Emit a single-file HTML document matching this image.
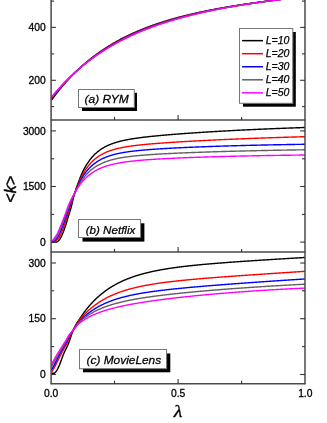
<!DOCTYPE html>
<html><head><meta charset="utf-8"><title>chart</title>
<style>html,body{margin:0;padding:0;background:#fff;}body{width:327px;height:423px;overflow:hidden;font-family:"Liberation Sans",sans-serif;}</style>
</head><body>
<svg width="327" height="423" viewBox="0 0 327 423" style="display:block;will-change:transform">
<rect width="327" height="423" fill="#fff"/>
<defs>
<clipPath id="c1"><rect x="51.1" y="0" width="253.9" height="119.9"/></clipPath>
<clipPath id="c2"><rect x="51.1" y="119.9" width="253.9" height="132.0"/></clipPath>
<clipPath id="c3"><rect x="51.1" y="251.9" width="253.9" height="131.85"/></clipPath>
</defs>
<g clip-path="url(#c1)" fill="none" stroke-width="1.4" stroke-linejoin="round">
<path d="M51.50,99.80 L52.01,99.46 L52.52,98.77 L53.03,98.08 L53.54,97.39 L54.05,96.71 L54.55,96.04 L55.06,95.37 L55.57,94.70 L56.08,94.04 L56.59,93.39 L57.10,92.74 L57.61,92.09 L58.12,91.45 L58.63,90.81 L59.14,90.18 L59.64,89.56 L60.15,88.93 L60.66,88.32 L61.17,87.70 L61.68,87.09 L62.19,86.49 L62.70,85.89 L63.21,85.29 L63.72,84.70 L64.23,84.11 L64.73,83.53 L65.24,82.95 L65.75,82.38 L66.26,81.81 L66.77,81.24 L67.28,80.68 L67.79,80.12 L68.30,79.57 L68.81,79.02 L69.32,78.47 L69.82,77.93 L70.33,77.39 L70.84,76.86 L71.35,76.33 L71.86,75.80 L72.37,75.28 L72.88,74.76 L73.39,74.24 L73.90,73.73 L74.41,73.22 L74.91,72.72 L75.42,72.22 L75.93,71.72 L76.44,71.23 L76.95,70.74 L77.46,70.25 L77.97,69.77 L78.48,69.29 L78.99,68.81 L79.50,68.34 L80.01,67.87 L80.51,67.41 L81.02,66.94 L81.53,66.48 L82.04,66.03 L82.55,65.58 L83.06,65.13 L83.57,64.68 L84.08,64.24 L84.59,63.80 L85.10,63.36 L85.60,62.93 L86.11,62.49 L86.62,62.07 L87.13,61.64 L87.64,61.22 L88.15,60.80 L88.66,60.38 L89.17,59.97 L89.68,59.56 L90.19,59.15 L90.69,58.75 L91.20,58.35 L91.71,57.95 L92.22,57.55 L92.73,57.16 L93.24,56.77 L93.75,56.38 L94.26,56.00 L94.77,55.62 L95.28,55.24 L95.78,54.86 L96.29,54.48 L96.80,54.11 L97.31,53.74 L97.82,53.38 L98.33,53.01 L98.84,52.65 L99.35,52.29 L99.86,51.93 L100.37,51.58 L100.87,51.23 L101.38,50.88 L101.89,50.53 L102.40,50.19 L102.91,49.85 L103.42,49.51 L103.93,49.17 L104.44,48.83 L104.95,48.50 L105.46,48.17 L105.96,47.84 L106.47,47.51 L106.98,47.19 L107.49,46.87 L108.00,46.55 L108.51,46.23 L109.02,45.92 L109.53,45.60 L110.04,45.29 L110.55,44.98 L111.06,44.68 L111.56,44.37 L112.07,44.07 L112.58,43.77 L113.09,43.47 L113.60,43.17 L114.11,42.88 L114.62,42.59 L115.13,42.30 L115.64,42.01 L116.15,41.72 L116.65,41.43 L117.16,41.15 L117.67,40.87 L118.18,40.59 L118.69,40.31 L119.20,40.04 L119.71,39.76 L120.22,39.49 L120.73,39.22 L121.24,38.95 L121.74,38.69 L122.25,38.42 L122.76,38.16 L123.27,37.90 L123.78,37.64 L124.29,37.38 L124.80,37.12 L125.31,36.87 L125.82,36.62 L126.33,36.36 L126.83,36.11 L127.34,35.87 L127.85,35.62 L128.36,35.37 L128.87,35.13 L129.38,34.89 L129.89,34.65 L130.40,34.41 L130.91,34.17 L131.42,33.94 L131.92,33.70 L132.43,33.47 L132.94,33.24 L133.45,33.01 L133.96,32.78 L134.47,32.56 L134.98,32.33 L135.49,32.11 L136.00,31.88 L136.51,31.66 L137.02,31.44 L137.52,31.22 L138.03,31.01 L138.54,30.79 L139.05,30.58 L139.56,30.37 L140.07,30.15 L140.58,29.94 L141.09,29.73 L141.60,29.53 L142.11,29.32 L142.61,29.12 L143.12,28.91 L143.63,28.71 L144.14,28.51 L144.65,28.31 L145.16,28.11 L145.67,27.91 L146.18,27.72 L146.69,27.52 L147.20,27.33 L147.70,27.13 L148.21,26.94 L148.72,26.75 L149.23,26.56 L149.74,26.37 L150.25,26.19 L150.76,26.00 L151.27,25.82 L151.78,25.63 L152.29,25.45 L152.79,25.27 L153.30,25.09 L153.81,24.91 L154.32,24.73 L154.83,24.55 L155.34,24.38 L155.85,24.20 L156.36,24.03 L156.87,23.86 L157.38,23.68 L157.88,23.51 L158.39,23.34 L158.90,23.17 L159.41,23.01 L159.92,22.84 L160.43,22.67 L160.94,22.51 L161.45,22.34 L161.96,22.18 L162.47,22.02 L162.97,21.86 L163.48,21.70 L163.99,21.54 L164.50,21.38 L165.01,21.22 L165.52,21.06 L166.03,20.91 L166.54,20.75 L167.05,20.60 L167.56,20.45 L168.07,20.29 L168.57,20.14 L169.08,19.99 L169.59,19.84 L170.10,19.69 L170.61,19.54 L171.12,19.40 L171.63,19.25 L172.14,19.11 L172.65,18.96 L173.16,18.82 L173.66,18.67 L174.17,18.53 L174.68,18.39 L175.19,18.25 L175.70,18.11 L176.21,17.97 L176.72,17.83 L177.23,17.69 L177.74,17.55 L178.25,17.42 L178.75,17.28 L179.26,17.15 L179.77,17.01 L180.28,16.88 L180.79,16.75 L181.30,16.61 L181.81,16.48 L182.32,16.35 L182.83,16.22 L183.34,16.09 L183.84,15.96 L184.35,15.84 L184.86,15.71 L185.37,15.58 L185.88,15.46 L186.39,15.33 L186.90,15.21 L187.41,15.08 L187.92,14.96 L188.43,14.84 L188.93,14.71 L189.44,14.59 L189.95,14.47 L190.46,14.35 L190.97,14.23 L191.48,14.11 L191.99,13.99 L192.50,13.88 L193.01,13.76 L193.52,13.64 L194.03,13.53 L194.53,13.41 L195.04,13.30 L195.55,13.18 L196.06,13.07 L196.57,12.95 L197.08,12.84 L197.59,12.73 L198.10,12.62 L198.61,12.51 L199.12,12.39 L199.62,12.28 L200.13,12.18 L200.64,12.07 L201.15,11.96 L201.66,11.85 L202.17,11.74 L202.68,11.64 L203.19,11.53 L203.70,11.42 L204.21,11.32 L204.71,11.21 L205.22,11.11 L205.73,11.00 L206.24,10.90 L206.75,10.80 L207.26,10.69 L207.77,10.59 L208.28,10.49 L208.79,10.39 L209.30,10.29 L209.80,10.19 L210.31,10.09 L210.82,9.99 L211.33,9.89 L211.84,9.79 L212.35,9.69 L212.86,9.60 L213.37,9.50 L213.88,9.40 L214.39,9.31 L214.89,9.21 L215.40,9.11 L215.91,9.02 L216.42,8.92 L216.93,8.83 L217.44,8.74 L217.95,8.64 L218.46,8.55 L218.97,8.46 L219.48,8.37 L219.98,8.27 L220.49,8.18 L221.00,8.09 L221.51,8.00 L222.02,7.91 L222.53,7.82 L223.04,7.73 L223.55,7.64 L224.06,7.55 L224.57,7.46 L225.08,7.38 L225.58,7.29 L226.09,7.20 L226.60,7.11 L227.11,7.03 L227.62,6.94 L228.13,6.85 L228.64,6.77 L229.15,6.68 L229.66,6.60 L230.17,6.51 L230.67,6.43 L231.18,6.34 L231.69,6.26 L232.20,6.18 L232.71,6.09 L233.22,6.01 L233.73,5.93 L234.24,5.85 L234.75,5.77 L235.26,5.68 L235.76,5.60 L236.27,5.52 L236.78,5.44 L237.29,5.36 L237.80,5.28 L238.31,5.20 L238.82,5.12 L239.33,5.04 L239.84,4.96 L240.35,4.89 L240.85,4.81 L241.36,4.73 L241.87,4.65 L242.38,4.57 L242.89,4.50 L243.40,4.42 L243.91,4.34 L244.42,4.27 L244.93,4.19 L245.44,4.12 L245.94,4.04 L246.45,3.96 L246.96,3.89 L247.47,3.81 L247.98,3.74 L248.49,3.67 L249.00,3.59 L249.51,3.52 L250.02,3.44 L250.53,3.37 L251.04,3.30 L251.54,3.23 L252.05,3.15 L252.56,3.08 L253.07,3.01 L253.58,2.94 L254.09,2.87 L254.60,2.79 L255.11,2.72 L255.62,2.65 L256.13,2.58 L256.63,2.51 L257.14,2.44 L257.65,2.37 L258.16,2.30 L258.67,2.23 L259.18,2.16 L259.69,2.09 L260.20,2.02 L260.71,1.95 L261.22,1.89 L261.72,1.82 L262.23,1.75 L262.74,1.68 L263.25,1.61 L263.76,1.55 L264.27,1.48 L264.78,1.41 L265.29,1.35 L265.80,1.28 L266.31,1.21 L266.81,1.15 L267.32,1.08 L267.83,1.01 L268.34,0.95 L268.85,0.88 L269.36,0.82 L269.87,0.75 L270.38,0.69 L270.89,0.62 L271.40,0.56 L271.90,0.49 L272.41,0.43 L272.92,0.36 L273.43,0.30 L273.94,0.24 L274.45,0.17 L274.96,0.11 L275.47,0.05 L275.98,-0.02 L276.49,-0.08 L276.99,-0.14 L277.50,-0.21 L278.01,-0.27 L278.52,-0.33 L279.03,-0.39 L279.54,-0.45 L280.05,-0.52 L280.56,-0.58 L281.07,-0.64 L281.58,-0.70 L282.09,-0.76 L282.59,-0.82 L283.10,-0.88 L283.61,-0.95 L284.12,-1.01 L284.63,-1.07 L285.14,-1.13 L285.65,-1.19 L286.16,-1.25 L286.67,-1.31 L287.18,-1.37 L287.68,-1.43 L288.19,-1.49 L288.70,-1.55 L289.21,-1.60 L289.72,-1.66 L290.23,-1.72 L290.74,-1.78 L291.25,-1.84 L291.76,-1.90 L292.27,-1.96 L292.77,-2.02 L293.28,-2.07 L293.79,-2.13 L294.30,-2.19 L294.81,-2.25 L295.32,-2.30 L295.83,-2.36 L296.34,-2.42 L296.85,-2.48 L297.36,-2.53 L297.86,-2.59 L298.37,-2.65 L298.88,-2.70 L299.39,-2.76 L299.90,-2.82 L300.41,-2.87 L300.92,-2.93 L301.43,-2.99 L301.94,-3.04 L302.45,-3.10 L302.95,-3.15 L303.46,-3.21 L303.97,-3.27 L304.48,-3.32 L304.99,-3.38 L305.50,-3.43" stroke="#000000"/>
<path d="M51.50,98.20 L52.01,98.07 L52.52,97.41 L53.03,96.76 L53.54,96.11 L54.05,95.47 L54.55,94.83 L55.06,94.19 L55.57,93.56 L56.08,92.93 L56.59,92.31 L57.10,91.69 L57.61,91.08 L58.12,90.47 L58.63,89.86 L59.14,89.26 L59.64,88.67 L60.15,88.07 L60.66,87.49 L61.17,86.90 L61.68,86.32 L62.19,85.74 L62.70,85.17 L63.21,84.60 L63.72,84.04 L64.23,83.48 L64.73,82.92 L65.24,82.37 L65.75,81.82 L66.26,81.27 L66.77,80.73 L67.28,80.19 L67.79,79.66 L68.30,79.12 L68.81,78.60 L69.32,78.07 L69.82,77.55 L70.33,77.04 L70.84,76.52 L71.35,76.01 L71.86,75.51 L72.37,75.00 L72.88,74.51 L73.39,74.01 L73.90,73.52 L74.41,73.03 L74.91,72.54 L75.42,72.06 L75.93,71.58 L76.44,71.10 L76.95,70.63 L77.46,70.16 L77.97,69.69 L78.48,69.23 L78.99,68.77 L79.50,68.31 L80.01,67.86 L80.51,67.41 L81.02,66.96 L81.53,66.52 L82.04,66.07 L82.55,65.63 L83.06,65.20 L83.57,64.77 L84.08,64.34 L84.59,63.91 L85.10,63.48 L85.60,63.06 L86.11,62.64 L86.62,62.23 L87.13,61.81 L87.64,61.40 L88.15,60.99 L88.66,60.59 L89.17,60.19 L89.68,59.79 L90.19,59.39 L90.69,59.00 L91.20,58.60 L91.71,58.22 L92.22,57.83 L92.73,57.44 L93.24,57.06 L93.75,56.68 L94.26,56.31 L94.77,55.93 L95.28,55.56 L95.78,55.19 L96.29,54.83 L96.80,54.46 L97.31,54.10 L97.82,53.74 L98.33,53.38 L98.84,53.03 L99.35,52.68 L99.86,52.33 L100.37,51.98 L100.87,51.63 L101.38,51.29 L101.89,50.95 L102.40,50.61 L102.91,50.27 L103.42,49.94 L103.93,49.60 L104.44,49.27 L104.95,48.95 L105.46,48.62 L105.96,48.30 L106.47,47.97 L106.98,47.66 L107.49,47.34 L108.00,47.02 L108.51,46.71 L109.02,46.40 L109.53,46.09 L110.04,45.78 L110.55,45.47 L111.06,45.17 L111.56,44.87 L112.07,44.57 L112.58,44.27 L113.09,43.98 L113.60,43.68 L114.11,43.39 L114.62,43.10 L115.13,42.81 L115.64,42.52 L116.15,42.24 L116.65,41.96 L117.16,41.68 L117.67,41.40 L118.18,41.12 L118.69,40.84 L119.20,40.57 L119.71,40.30 L120.22,40.03 L120.73,39.76 L121.24,39.49 L121.74,39.22 L122.25,38.96 L122.76,38.70 L123.27,38.44 L123.78,38.18 L124.29,37.92 L124.80,37.66 L125.31,37.41 L125.82,37.16 L126.33,36.91 L126.83,36.66 L127.34,36.41 L127.85,36.16 L128.36,35.92 L128.87,35.67 L129.38,35.43 L129.89,35.19 L130.40,34.95 L130.91,34.72 L131.42,34.48 L131.92,34.24 L132.43,34.01 L132.94,33.78 L133.45,33.55 L133.96,33.32 L134.47,33.09 L134.98,32.87 L135.49,32.64 L136.00,32.42 L136.51,32.20 L137.02,31.98 L137.52,31.76 L138.03,31.54 L138.54,31.32 L139.05,31.11 L139.56,30.89 L140.07,30.68 L140.58,30.47 L141.09,30.26 L141.60,30.05 L142.11,29.84 L142.61,29.63 L143.12,29.43 L143.63,29.23 L144.14,29.02 L144.65,28.82 L145.16,28.62 L145.67,28.42 L146.18,28.22 L146.69,28.03 L147.20,27.83 L147.70,27.64 L148.21,27.44 L148.72,27.25 L149.23,27.06 L149.74,26.87 L150.25,26.68 L150.76,26.49 L151.27,26.30 L151.78,26.12 L152.29,25.93 L152.79,25.75 L153.30,25.57 L153.81,25.39 L154.32,25.21 L154.83,25.03 L155.34,24.85 L155.85,24.67 L156.36,24.49 L156.87,24.32 L157.38,24.14 L157.88,23.97 L158.39,23.80 L158.90,23.63 L159.41,23.46 L159.92,23.29 L160.43,23.12 L160.94,22.95 L161.45,22.78 L161.96,22.62 L162.47,22.45 L162.97,22.29 L163.48,22.13 L163.99,21.97 L164.50,21.80 L165.01,21.64 L165.52,21.48 L166.03,21.33 L166.54,21.17 L167.05,21.01 L167.56,20.86 L168.07,20.70 L168.57,20.55 L169.08,20.39 L169.59,20.24 L170.10,20.09 L170.61,19.94 L171.12,19.79 L171.63,19.64 L172.14,19.49 L172.65,19.34 L173.16,19.20 L173.66,19.05 L174.17,18.91 L174.68,18.76 L175.19,18.62 L175.70,18.48 L176.21,18.33 L176.72,18.19 L177.23,18.05 L177.74,17.91 L178.25,17.77 L178.75,17.63 L179.26,17.50 L179.77,17.36 L180.28,17.22 L180.79,17.09 L181.30,16.95 L181.81,16.82 L182.32,16.69 L182.83,16.55 L183.34,16.42 L183.84,16.29 L184.35,16.16 L184.86,16.03 L185.37,15.90 L185.88,15.77 L186.39,15.64 L186.90,15.51 L187.41,15.39 L187.92,15.26 L188.43,15.14 L188.93,15.01 L189.44,14.89 L189.95,14.76 L190.46,14.64 L190.97,14.52 L191.48,14.40 L191.99,14.28 L192.50,14.16 L193.01,14.04 L193.52,13.92 L194.03,13.80 L194.53,13.68 L195.04,13.56 L195.55,13.44 L196.06,13.33 L196.57,13.21 L197.08,13.10 L197.59,12.98 L198.10,12.87 L198.61,12.75 L199.12,12.64 L199.62,12.53 L200.13,12.42 L200.64,12.31 L201.15,12.19 L201.66,12.08 L202.17,11.97 L202.68,11.86 L203.19,11.76 L203.70,11.65 L204.21,11.54 L204.71,11.43 L205.22,11.33 L205.73,11.22 L206.24,11.11 L206.75,11.01 L207.26,10.90 L207.77,10.80 L208.28,10.69 L208.79,10.59 L209.30,10.49 L209.80,10.39 L210.31,10.28 L210.82,10.18 L211.33,10.08 L211.84,9.98 L212.35,9.88 L212.86,9.78 L213.37,9.68 L213.88,9.58 L214.39,9.48 L214.89,9.39 L215.40,9.29 L215.91,9.19 L216.42,9.09 L216.93,9.00 L217.44,8.90 L217.95,8.81 L218.46,8.71 L218.97,8.62 L219.48,8.52 L219.98,8.43 L220.49,8.33 L221.00,8.24 L221.51,8.15 L222.02,8.06 L222.53,7.97 L223.04,7.87 L223.55,7.78 L224.06,7.69 L224.57,7.60 L225.08,7.51 L225.58,7.42 L226.09,7.33 L226.60,7.24 L227.11,7.16 L227.62,7.07 L228.13,6.98 L228.64,6.89 L229.15,6.81 L229.66,6.72 L230.17,6.63 L230.67,6.55 L231.18,6.46 L231.69,6.38 L232.20,6.29 L232.71,6.21 L233.22,6.12 L233.73,6.04 L234.24,5.95 L234.75,5.87 L235.26,5.79 L235.76,5.70 L236.27,5.62 L236.78,5.54 L237.29,5.46 L237.80,5.38 L238.31,5.30 L238.82,5.22 L239.33,5.13 L239.84,5.05 L240.35,4.97 L240.85,4.89 L241.36,4.82 L241.87,4.74 L242.38,4.66 L242.89,4.58 L243.40,4.50 L243.91,4.42 L244.42,4.35 L244.93,4.27 L245.44,4.19 L245.94,4.12 L246.45,4.04 L246.96,3.96 L247.47,3.89 L247.98,3.81 L248.49,3.74 L249.00,3.66 L249.51,3.59 L250.02,3.51 L250.53,3.44 L251.04,3.36 L251.54,3.29 L252.05,3.22 L252.56,3.14 L253.07,3.07 L253.58,3.00 L254.09,2.92 L254.60,2.85 L255.11,2.78 L255.62,2.71 L256.13,2.64 L256.63,2.57 L257.14,2.49 L257.65,2.42 L258.16,2.35 L258.67,2.28 L259.18,2.21 L259.69,2.14 L260.20,2.07 L260.71,2.00 L261.22,1.93 L261.72,1.86 L262.23,1.80 L262.74,1.73 L263.25,1.66 L263.76,1.59 L264.27,1.52 L264.78,1.46 L265.29,1.39 L265.80,1.32 L266.31,1.25 L266.81,1.19 L267.32,1.12 L267.83,1.05 L268.34,0.99 L268.85,0.92 L269.36,0.86 L269.87,0.79 L270.38,0.72 L270.89,0.66 L271.40,0.59 L271.90,0.53 L272.41,0.46 L272.92,0.40 L273.43,0.34 L273.94,0.27 L274.45,0.21 L274.96,0.14 L275.47,0.08 L275.98,0.02 L276.49,-0.05 L276.99,-0.11 L277.50,-0.17 L278.01,-0.24 L278.52,-0.30 L279.03,-0.36 L279.54,-0.42 L280.05,-0.48 L280.56,-0.55 L281.07,-0.61 L281.58,-0.67 L282.09,-0.73 L282.59,-0.79 L283.10,-0.85 L283.61,-0.91 L284.12,-0.97 L284.63,-1.03 L285.14,-1.10 L285.65,-1.16 L286.16,-1.22 L286.67,-1.28 L287.18,-1.33 L287.68,-1.39 L288.19,-1.45 L288.70,-1.51 L289.21,-1.57 L289.72,-1.63 L290.23,-1.69 L290.74,-1.75 L291.25,-1.81 L291.76,-1.87 L292.27,-1.92 L292.77,-1.98 L293.28,-2.04 L293.79,-2.10 L294.30,-2.16 L294.81,-2.21 L295.32,-2.27 L295.83,-2.33 L296.34,-2.38 L296.85,-2.44 L297.36,-2.50 L297.86,-2.56 L298.37,-2.61 L298.88,-2.67 L299.39,-2.72 L299.90,-2.78 L300.41,-2.84 L300.92,-2.89 L301.43,-2.95 L301.94,-3.00 L302.45,-3.06 L302.95,-3.12 L303.46,-3.17 L303.97,-3.23 L304.48,-3.28 L304.99,-3.34 L305.50,-3.39" stroke="#ff0000"/>
<path d="M51.50,97.50 L52.01,97.43 L52.52,96.79 L53.03,96.15 L53.54,95.53 L54.05,94.90 L54.55,94.28 L55.06,93.66 L55.57,93.05 L56.08,92.44 L56.59,91.84 L57.10,91.24 L57.61,90.64 L58.12,90.05 L58.63,89.46 L59.14,88.88 L59.64,88.30 L60.15,87.72 L60.66,87.15 L61.17,86.58 L61.68,86.02 L62.19,85.45 L62.70,84.90 L63.21,84.34 L63.72,83.79 L64.23,83.25 L64.73,82.70 L65.24,82.16 L65.75,81.63 L66.26,81.10 L66.77,80.57 L67.28,80.04 L67.79,79.52 L68.30,79.00 L68.81,78.49 L69.32,77.98 L69.82,77.47 L70.33,76.96 L70.84,76.46 L71.35,75.96 L71.86,75.47 L72.37,74.98 L72.88,74.49 L73.39,74.01 L73.90,73.52 L74.41,73.04 L74.91,72.57 L75.42,72.10 L75.93,71.63 L76.44,71.16 L76.95,70.70 L77.46,70.24 L77.97,69.78 L78.48,69.33 L78.99,68.88 L79.50,68.43 L80.01,67.98 L80.51,67.54 L81.02,67.10 L81.53,66.66 L82.04,66.23 L82.55,65.80 L83.06,65.37 L83.57,64.95 L84.08,64.52 L84.59,64.10 L85.10,63.69 L85.60,63.27 L86.11,62.86 L86.62,62.45 L87.13,62.04 L87.64,61.64 L88.15,61.24 L88.66,60.84 L89.17,60.45 L89.68,60.05 L90.19,59.66 L90.69,59.27 L91.20,58.89 L91.71,58.50 L92.22,58.12 L92.73,57.74 L93.24,57.37 L93.75,56.99 L94.26,56.62 L94.77,56.25 L95.28,55.89 L95.78,55.52 L96.29,55.16 L96.80,54.80 L97.31,54.44 L97.82,54.09 L98.33,53.74 L98.84,53.38 L99.35,53.04 L99.86,52.69 L100.37,52.35 L100.87,52.00 L101.38,51.66 L101.89,51.33 L102.40,50.99 L102.91,50.66 L103.42,50.33 L103.93,50.00 L104.44,49.67 L104.95,49.35 L105.46,49.02 L105.96,48.70 L106.47,48.38 L106.98,48.07 L107.49,47.75 L108.00,47.44 L108.51,47.13 L109.02,46.82 L109.53,46.51 L110.04,46.21 L110.55,45.90 L111.06,45.60 L111.56,45.30 L112.07,45.01 L112.58,44.71 L113.09,44.42 L113.60,44.12 L114.11,43.83 L114.62,43.55 L115.13,43.26 L115.64,42.97 L116.15,42.69 L116.65,42.41 L117.16,42.13 L117.67,41.85 L118.18,41.58 L118.69,41.30 L119.20,41.03 L119.71,40.76 L120.22,40.49 L120.73,40.22 L121.24,39.95 L121.74,39.69 L122.25,39.43 L122.76,39.16 L123.27,38.90 L123.78,38.65 L124.29,38.39 L124.80,38.13 L125.31,37.88 L125.82,37.63 L126.33,37.38 L126.83,37.13 L127.34,36.88 L127.85,36.63 L128.36,36.39 L128.87,36.15 L129.38,35.91 L129.89,35.67 L130.40,35.43 L130.91,35.19 L131.42,34.95 L131.92,34.72 L132.43,34.49 L132.94,34.25 L133.45,34.02 L133.96,33.79 L134.47,33.57 L134.98,33.34 L135.49,33.11 L136.00,32.89 L136.51,32.67 L137.02,32.45 L137.52,32.23 L138.03,32.01 L138.54,31.79 L139.05,31.58 L139.56,31.36 L140.07,31.15 L140.58,30.94 L141.09,30.73 L141.60,30.52 L142.11,30.31 L142.61,30.10 L143.12,29.89 L143.63,29.69 L144.14,29.49 L144.65,29.28 L145.16,29.08 L145.67,28.88 L146.18,28.68 L146.69,28.48 L147.20,28.29 L147.70,28.09 L148.21,27.90 L148.72,27.70 L149.23,27.51 L149.74,27.32 L150.25,27.13 L150.76,26.94 L151.27,26.75 L151.78,26.57 L152.29,26.38 L152.79,26.20 L153.30,26.01 L153.81,25.83 L154.32,25.65 L154.83,25.47 L155.34,25.29 L155.85,25.11 L156.36,24.93 L156.87,24.75 L157.38,24.58 L157.88,24.40 L158.39,24.23 L158.90,24.06 L159.41,23.89 L159.92,23.71 L160.43,23.54 L160.94,23.38 L161.45,23.21 L161.96,23.04 L162.47,22.87 L162.97,22.71 L163.48,22.54 L163.99,22.38 L164.50,22.22 L165.01,22.06 L165.52,21.89 L166.03,21.73 L166.54,21.58 L167.05,21.42 L167.56,21.26 L168.07,21.10 L168.57,20.95 L169.08,20.79 L169.59,20.64 L170.10,20.48 L170.61,20.33 L171.12,20.18 L171.63,20.03 L172.14,19.88 L172.65,19.73 L173.16,19.58 L173.66,19.43 L174.17,19.29 L174.68,19.14 L175.19,19.00 L175.70,18.85 L176.21,18.71 L176.72,18.56 L177.23,18.42 L177.74,18.28 L178.25,18.14 L178.75,18.00 L179.26,17.86 L179.77,17.72 L180.28,17.58 L180.79,17.44 L181.30,17.31 L181.81,17.17 L182.32,17.04 L182.83,16.90 L183.34,16.77 L183.84,16.64 L184.35,16.50 L184.86,16.37 L185.37,16.24 L185.88,16.11 L186.39,15.98 L186.90,15.85 L187.41,15.72 L187.92,15.59 L188.43,15.47 L188.93,15.34 L189.44,15.21 L189.95,15.09 L190.46,14.96 L190.97,14.84 L191.48,14.71 L191.99,14.59 L192.50,14.47 L193.01,14.35 L193.52,14.23 L194.03,14.11 L194.53,13.99 L195.04,13.87 L195.55,13.75 L196.06,13.63 L196.57,13.51 L197.08,13.39 L197.59,13.28 L198.10,13.16 L198.61,13.04 L199.12,12.93 L199.62,12.82 L200.13,12.70 L200.64,12.59 L201.15,12.48 L201.66,12.36 L202.17,12.25 L202.68,12.14 L203.19,12.03 L203.70,11.92 L204.21,11.81 L204.71,11.70 L205.22,11.59 L205.73,11.48 L206.24,11.37 L206.75,11.27 L207.26,11.16 L207.77,11.05 L208.28,10.95 L208.79,10.84 L209.30,10.74 L209.80,10.63 L210.31,10.53 L210.82,10.43 L211.33,10.32 L211.84,10.22 L212.35,10.12 L212.86,10.02 L213.37,9.92 L213.88,9.81 L214.39,9.71 L214.89,9.61 L215.40,9.52 L215.91,9.42 L216.42,9.32 L216.93,9.22 L217.44,9.12 L217.95,9.02 L218.46,8.93 L218.97,8.83 L219.48,8.73 L219.98,8.64 L220.49,8.54 L221.00,8.45 L221.51,8.35 L222.02,8.26 L222.53,8.17 L223.04,8.07 L223.55,7.98 L224.06,7.89 L224.57,7.80 L225.08,7.70 L225.58,7.61 L226.09,7.52 L226.60,7.43 L227.11,7.34 L227.62,7.25 L228.13,7.16 L228.64,7.07 L229.15,6.98 L229.66,6.90 L230.17,6.81 L230.67,6.72 L231.18,6.63 L231.69,6.54 L232.20,6.46 L232.71,6.37 L233.22,6.29 L233.73,6.20 L234.24,6.11 L234.75,6.03 L235.26,5.94 L235.76,5.86 L236.27,5.78 L236.78,5.69 L237.29,5.61 L237.80,5.53 L238.31,5.44 L238.82,5.36 L239.33,5.28 L239.84,5.20 L240.35,5.12 L240.85,5.03 L241.36,4.95 L241.87,4.87 L242.38,4.79 L242.89,4.71 L243.40,4.63 L243.91,4.55 L244.42,4.47 L244.93,4.40 L245.44,4.32 L245.94,4.24 L246.45,4.16 L246.96,4.08 L247.47,4.01 L247.98,3.93 L248.49,3.85 L249.00,3.77 L249.51,3.70 L250.02,3.62 L250.53,3.55 L251.04,3.47 L251.54,3.40 L252.05,3.32 L252.56,3.25 L253.07,3.17 L253.58,3.10 L254.09,3.02 L254.60,2.95 L255.11,2.88 L255.62,2.80 L256.13,2.73 L256.63,2.66 L257.14,2.58 L257.65,2.51 L258.16,2.44 L258.67,2.37 L259.18,2.30 L259.69,2.22 L260.20,2.15 L260.71,2.08 L261.22,2.01 L261.72,1.94 L262.23,1.87 L262.74,1.80 L263.25,1.73 L263.76,1.66 L264.27,1.59 L264.78,1.52 L265.29,1.45 L265.80,1.39 L266.31,1.32 L266.81,1.25 L267.32,1.18 L267.83,1.11 L268.34,1.05 L268.85,0.98 L269.36,0.91 L269.87,0.84 L270.38,0.78 L270.89,0.71 L271.40,0.65 L271.90,0.58 L272.41,0.51 L272.92,0.45 L273.43,0.38 L273.94,0.32 L274.45,0.25 L274.96,0.19 L275.47,0.12 L275.98,0.06 L276.49,-0.01 L276.99,-0.07 L277.50,-0.14 L278.01,-0.20 L278.52,-0.26 L279.03,-0.33 L279.54,-0.39 L280.05,-0.45 L280.56,-0.52 L281.07,-0.58 L281.58,-0.64 L282.09,-0.70 L282.59,-0.77 L283.10,-0.83 L283.61,-0.89 L284.12,-0.95 L284.63,-1.01 L285.14,-1.08 L285.65,-1.14 L286.16,-1.20 L286.67,-1.26 L287.18,-1.32 L287.68,-1.38 L288.19,-1.44 L288.70,-1.50 L289.21,-1.56 L289.72,-1.62 L290.23,-1.68 L290.74,-1.74 L291.25,-1.80 L291.76,-1.86 L292.27,-1.92 L292.77,-1.98 L293.28,-2.04 L293.79,-2.10 L294.30,-2.16 L294.81,-2.21 L295.32,-2.27 L295.83,-2.33 L296.34,-2.39 L296.85,-2.45 L297.36,-2.50 L297.86,-2.56 L298.37,-2.62 L298.88,-2.68 L299.39,-2.73 L299.90,-2.79 L300.41,-2.85 L300.92,-2.91 L301.43,-2.96 L301.94,-3.02 L302.45,-3.08 L302.95,-3.13 L303.46,-3.19 L303.97,-3.24 L304.48,-3.30 L304.99,-3.36 L305.50,-3.41" stroke="#0000ff"/>
<path d="M51.50,97.00 L52.01,96.97 L52.52,96.34 L53.03,95.72 L53.54,95.11 L54.05,94.50 L54.55,93.89 L55.06,93.29 L55.57,92.69 L56.08,92.09 L56.59,91.50 L57.10,90.92 L57.61,90.33 L58.12,89.75 L58.63,89.18 L59.14,88.60 L59.64,88.04 L60.15,87.47 L60.66,86.91 L61.17,86.35 L61.68,85.80 L62.19,85.25 L62.70,84.70 L63.21,84.16 L63.72,83.62 L64.23,83.08 L64.73,82.55 L65.24,82.02 L65.75,81.50 L66.26,80.97 L66.77,80.46 L67.28,79.94 L67.79,79.43 L68.30,78.92 L68.81,78.41 L69.32,77.91 L69.82,77.41 L70.33,76.92 L70.84,76.42 L71.35,75.93 L71.86,75.45 L72.37,74.96 L72.88,74.48 L73.39,74.01 L73.90,73.53 L74.41,73.06 L74.91,72.59 L75.42,72.13 L75.93,71.67 L76.44,71.21 L76.95,70.75 L77.46,70.30 L77.97,69.85 L78.48,69.40 L78.99,68.96 L79.50,68.52 L80.01,68.08 L80.51,67.64 L81.02,67.21 L81.53,66.78 L82.04,66.35 L82.55,65.92 L83.06,65.50 L83.57,65.08 L84.08,64.67 L84.59,64.25 L85.10,63.84 L85.60,63.43 L86.11,63.02 L86.62,62.62 L87.13,62.22 L87.64,61.82 L88.15,61.42 L88.66,61.03 L89.17,60.64 L89.68,60.25 L90.19,59.86 L90.69,59.48 L91.20,59.10 L91.71,58.72 L92.22,58.34 L92.73,57.97 L93.24,57.59 L93.75,57.22 L94.26,56.86 L94.77,56.49 L95.28,56.13 L95.78,55.77 L96.29,55.41 L96.80,55.05 L97.31,54.70 L97.82,54.35 L98.33,54.00 L98.84,53.65 L99.35,53.31 L99.86,52.96 L100.37,52.62 L100.87,52.28 L101.38,51.95 L101.89,51.61 L102.40,51.28 L102.91,50.95 L103.42,50.62 L103.93,50.29 L104.44,49.97 L104.95,49.65 L105.46,49.32 L105.96,49.01 L106.47,48.69 L106.98,48.38 L107.49,48.06 L108.00,47.75 L108.51,47.44 L109.02,47.14 L109.53,46.83 L110.04,46.53 L110.55,46.23 L111.06,45.93 L111.56,45.63 L112.07,45.33 L112.58,45.04 L113.09,44.75 L113.60,44.45 L114.11,44.17 L114.62,43.88 L115.13,43.59 L115.64,43.31 L116.15,43.03 L116.65,42.75 L117.16,42.47 L117.67,42.19 L118.18,41.92 L118.69,41.64 L119.20,41.37 L119.71,41.10 L120.22,40.83 L120.73,40.56 L121.24,40.30 L121.74,40.04 L122.25,39.77 L122.76,39.51 L123.27,39.25 L123.78,38.99 L124.29,38.74 L124.80,38.48 L125.31,38.23 L125.82,37.98 L126.33,37.73 L126.83,37.48 L127.34,37.23 L127.85,36.99 L128.36,36.74 L128.87,36.50 L129.38,36.26 L129.89,36.02 L130.40,35.78 L130.91,35.54 L131.42,35.31 L131.92,35.07 L132.43,34.84 L132.94,34.61 L133.45,34.38 L133.96,34.15 L134.47,33.92 L134.98,33.69 L135.49,33.47 L136.00,33.24 L136.51,33.02 L137.02,32.80 L137.52,32.58 L138.03,32.36 L138.54,32.14 L139.05,31.93 L139.56,31.71 L140.07,31.50 L140.58,31.29 L141.09,31.08 L141.60,30.86 L142.11,30.66 L142.61,30.45 L143.12,30.24 L143.63,30.04 L144.14,29.83 L144.65,29.63 L145.16,29.43 L145.67,29.23 L146.18,29.03 L146.69,28.83 L147.20,28.63 L147.70,28.43 L148.21,28.24 L148.72,28.04 L149.23,27.85 L149.74,27.66 L150.25,27.47 L150.76,27.28 L151.27,27.09 L151.78,26.90 L152.29,26.72 L152.79,26.53 L153.30,26.35 L153.81,26.16 L154.32,25.98 L154.83,25.80 L155.34,25.62 L155.85,25.44 L156.36,25.26 L156.87,25.08 L157.38,24.90 L157.88,24.73 L158.39,24.55 L158.90,24.38 L159.41,24.21 L159.92,24.03 L160.43,23.86 L160.94,23.69 L161.45,23.52 L161.96,23.36 L162.47,23.19 L162.97,23.02 L163.48,22.86 L163.99,22.69 L164.50,22.53 L165.01,22.37 L165.52,22.20 L166.03,22.04 L166.54,21.88 L167.05,21.72 L167.56,21.56 L168.07,21.41 L168.57,21.25 L169.08,21.09 L169.59,20.94 L170.10,20.78 L170.61,20.63 L171.12,20.48 L171.63,20.32 L172.14,20.17 L172.65,20.02 L173.16,19.87 L173.66,19.72 L174.17,19.57 L174.68,19.43 L175.19,19.28 L175.70,19.13 L176.21,18.99 L176.72,18.84 L177.23,18.70 L177.74,18.56 L178.25,18.41 L178.75,18.27 L179.26,18.13 L179.77,17.99 L180.28,17.85 L180.79,17.71 L181.30,17.58 L181.81,17.44 L182.32,17.30 L182.83,17.17 L183.34,17.03 L183.84,16.90 L184.35,16.76 L184.86,16.63 L185.37,16.50 L185.88,16.36 L186.39,16.23 L186.90,16.10 L187.41,15.97 L187.92,15.84 L188.43,15.71 L188.93,15.59 L189.44,15.46 L189.95,15.33 L190.46,15.21 L190.97,15.08 L191.48,14.95 L191.99,14.83 L192.50,14.71 L193.01,14.58 L193.52,14.46 L194.03,14.34 L194.53,14.22 L195.04,14.10 L195.55,13.97 L196.06,13.86 L196.57,13.74 L197.08,13.62 L197.59,13.50 L198.10,13.38 L198.61,13.26 L199.12,13.15 L199.62,13.03 L200.13,12.92 L200.64,12.80 L201.15,12.69 L201.66,12.57 L202.17,12.46 L202.68,12.35 L203.19,12.24 L203.70,12.12 L204.21,12.01 L204.71,11.90 L205.22,11.79 L205.73,11.68 L206.24,11.57 L206.75,11.46 L207.26,11.36 L207.77,11.25 L208.28,11.14 L208.79,11.03 L209.30,10.93 L209.80,10.82 L210.31,10.72 L210.82,10.61 L211.33,10.51 L211.84,10.40 L212.35,10.30 L212.86,10.20 L213.37,10.09 L213.88,9.99 L214.39,9.89 L214.89,9.79 L215.40,9.69 L215.91,9.59 L216.42,9.49 L216.93,9.39 L217.44,9.29 L217.95,9.19 L218.46,9.09 L218.97,8.99 L219.48,8.90 L219.98,8.80 L220.49,8.70 L221.00,8.61 L221.51,8.51 L222.02,8.41 L222.53,8.32 L223.04,8.23 L223.55,8.13 L224.06,8.04 L224.57,7.94 L225.08,7.85 L225.58,7.76 L226.09,7.67 L226.60,7.57 L227.11,7.48 L227.62,7.39 L228.13,7.30 L228.64,7.21 L229.15,7.12 L229.66,7.03 L230.17,6.94 L230.67,6.85 L231.18,6.76 L231.69,6.67 L232.20,6.59 L232.71,6.50 L233.22,6.41 L233.73,6.32 L234.24,6.24 L234.75,6.15 L235.26,6.06 L235.76,5.98 L236.27,5.89 L236.78,5.81 L237.29,5.72 L237.80,5.64 L238.31,5.56 L238.82,5.47 L239.33,5.39 L239.84,5.31 L240.35,5.22 L240.85,5.14 L241.36,5.06 L241.87,4.98 L242.38,4.89 L242.89,4.81 L243.40,4.73 L243.91,4.65 L244.42,4.57 L244.93,4.49 L245.44,4.41 L245.94,4.33 L246.45,4.25 L246.96,4.17 L247.47,4.09 L247.98,4.02 L248.49,3.94 L249.00,3.86 L249.51,3.78 L250.02,3.71 L250.53,3.63 L251.04,3.55 L251.54,3.48 L252.05,3.40 L252.56,3.32 L253.07,3.25 L253.58,3.17 L254.09,3.10 L254.60,3.02 L255.11,2.95 L255.62,2.87 L256.13,2.80 L256.63,2.73 L257.14,2.65 L257.65,2.58 L258.16,2.51 L258.67,2.43 L259.18,2.36 L259.69,2.29 L260.20,2.21 L260.71,2.14 L261.22,2.07 L261.72,2.00 L262.23,1.93 L262.74,1.86 L263.25,1.79 L263.76,1.72 L264.27,1.65 L264.78,1.58 L265.29,1.51 L265.80,1.44 L266.31,1.37 L266.81,1.30 L267.32,1.23 L267.83,1.16 L268.34,1.09 L268.85,1.02 L269.36,0.95 L269.87,0.89 L270.38,0.82 L270.89,0.75 L271.40,0.68 L271.90,0.62 L272.41,0.55 L272.92,0.48 L273.43,0.42 L273.94,0.35 L274.45,0.28 L274.96,0.22 L275.47,0.15 L275.98,0.09 L276.49,0.02 L276.99,-0.04 L277.50,-0.11 L278.01,-0.17 L278.52,-0.24 L279.03,-0.30 L279.54,-0.37 L280.05,-0.43 L280.56,-0.50 L281.07,-0.56 L281.58,-0.62 L282.09,-0.69 L282.59,-0.75 L283.10,-0.81 L283.61,-0.88 L284.12,-0.94 L284.63,-1.00 L285.14,-1.06 L285.65,-1.13 L286.16,-1.19 L286.67,-1.25 L287.18,-1.31 L287.68,-1.37 L288.19,-1.43 L288.70,-1.49 L289.21,-1.56 L289.72,-1.62 L290.23,-1.68 L290.74,-1.74 L291.25,-1.80 L291.76,-1.86 L292.27,-1.92 L292.77,-1.98 L293.28,-2.04 L293.79,-2.10 L294.30,-2.16 L294.81,-2.22 L295.32,-2.28 L295.83,-2.33 L296.34,-2.39 L296.85,-2.45 L297.36,-2.51 L297.86,-2.57 L298.37,-2.63 L298.88,-2.69 L299.39,-2.74 L299.90,-2.80 L300.41,-2.86 L300.92,-2.92 L301.43,-2.97 L301.94,-3.03 L302.45,-3.09 L302.95,-3.15 L303.46,-3.20 L303.97,-3.26 L304.48,-3.32 L304.99,-3.37 L305.50,-3.43" stroke="#606060"/>
<path d="M51.50,96.40 L52.01,96.43 L52.52,95.82 L53.03,95.22 L53.54,94.62 L54.05,94.02 L54.55,93.43 L55.06,92.84 L55.57,92.26 L56.08,91.68 L56.59,91.10 L57.10,90.53 L57.61,89.96 L58.12,89.39 L58.63,88.83 L59.14,88.27 L59.64,87.72 L60.15,87.17 L60.66,86.62 L61.17,86.07 L61.68,85.53 L62.19,84.99 L62.70,84.46 L63.21,83.93 L63.72,83.40 L64.23,82.88 L64.73,82.35 L65.24,81.84 L65.75,81.32 L66.26,80.81 L66.77,80.30 L67.28,79.80 L67.79,79.30 L68.30,78.80 L68.81,78.30 L69.32,77.81 L69.82,77.32 L70.33,76.83 L70.84,76.35 L71.35,75.87 L71.86,75.39 L72.37,74.92 L72.88,74.45 L73.39,73.98 L73.90,73.52 L74.41,73.05 L74.91,72.59 L75.42,72.14 L75.93,71.68 L76.44,71.23 L76.95,70.78 L77.46,70.34 L77.97,69.90 L78.48,69.46 L78.99,69.02 L79.50,68.59 L80.01,68.15 L80.51,67.72 L81.02,67.30 L81.53,66.87 L82.04,66.45 L82.55,66.03 L83.06,65.62 L83.57,65.21 L84.08,64.79 L84.59,64.39 L85.10,63.98 L85.60,63.58 L86.11,63.18 L86.62,62.78 L87.13,62.38 L87.64,61.99 L88.15,61.60 L88.66,61.21 L89.17,60.82 L89.68,60.44 L90.19,60.06 L90.69,59.68 L91.20,59.30 L91.71,58.93 L92.22,58.55 L92.73,58.18 L93.24,57.82 L93.75,57.45 L94.26,57.09 L94.77,56.73 L95.28,56.37 L95.78,56.01 L96.29,55.66 L96.80,55.30 L97.31,54.95 L97.82,54.61 L98.33,54.26 L98.84,53.92 L99.35,53.57 L99.86,53.23 L100.37,52.90 L100.87,52.56 L101.38,52.23 L101.89,51.90 L102.40,51.57 L102.91,51.24 L103.42,50.91 L103.93,50.59 L104.44,50.27 L104.95,49.95 L105.46,49.63 L105.96,49.31 L106.47,49.00 L106.98,48.69 L107.49,48.38 L108.00,48.07 L108.51,47.76 L109.02,47.46 L109.53,47.15 L110.04,46.85 L110.55,46.55 L111.06,46.25 L111.56,45.96 L112.07,45.66 L112.58,45.37 L113.09,45.08 L113.60,44.79 L114.11,44.50 L114.62,44.22 L115.13,43.93 L115.64,43.65 L116.15,43.37 L116.65,43.09 L117.16,42.81 L117.67,42.54 L118.18,42.26 L118.69,41.99 L119.20,41.72 L119.71,41.45 L120.22,41.18 L120.73,40.92 L121.24,40.65 L121.74,40.39 L122.25,40.13 L122.76,39.87 L123.27,39.61 L123.78,39.35 L124.29,39.10 L124.80,38.84 L125.31,38.59 L125.82,38.34 L126.33,38.09 L126.83,37.84 L127.34,37.59 L127.85,37.35 L128.36,37.10 L128.87,36.86 L129.38,36.62 L129.89,36.38 L130.40,36.14 L130.91,35.90 L131.42,35.67 L131.92,35.43 L132.43,35.20 L132.94,34.97 L133.45,34.74 L133.96,34.51 L134.47,34.28 L134.98,34.05 L135.49,33.83 L136.00,33.61 L136.51,33.38 L137.02,33.16 L137.52,32.94 L138.03,32.72 L138.54,32.50 L139.05,32.29 L139.56,32.07 L140.07,31.86 L140.58,31.64 L141.09,31.43 L141.60,31.22 L142.11,31.01 L142.61,30.80 L143.12,30.60 L143.63,30.39 L144.14,30.19 L144.65,29.98 L145.16,29.78 L145.67,29.58 L146.18,29.38 L146.69,29.18 L147.20,28.98 L147.70,28.78 L148.21,28.59 L148.72,28.39 L149.23,28.20 L149.74,28.01 L150.25,27.81 L150.76,27.62 L151.27,27.43 L151.78,27.24 L152.29,27.06 L152.79,26.87 L153.30,26.68 L153.81,26.50 L154.32,26.32 L154.83,26.13 L155.34,25.95 L155.85,25.77 L156.36,25.59 L156.87,25.41 L157.38,25.23 L157.88,25.06 L158.39,24.88 L158.90,24.71 L159.41,24.53 L159.92,24.36 L160.43,24.19 L160.94,24.02 L161.45,23.85 L161.96,23.68 L162.47,23.51 L162.97,23.34 L163.48,23.17 L163.99,23.01 L164.50,22.84 L165.01,22.68 L165.52,22.51 L166.03,22.35 L166.54,22.19 L167.05,22.03 L167.56,21.87 L168.07,21.71 L168.57,21.55 L169.08,21.39 L169.59,21.24 L170.10,21.08 L170.61,20.93 L171.12,20.77 L171.63,20.62 L172.14,20.47 L172.65,20.31 L173.16,20.16 L173.66,20.01 L174.17,19.86 L174.68,19.71 L175.19,19.57 L175.70,19.42 L176.21,19.27 L176.72,19.13 L177.23,18.98 L177.74,18.84 L178.25,18.69 L178.75,18.55 L179.26,18.41 L179.77,18.26 L180.28,18.12 L180.79,17.98 L181.30,17.84 L181.81,17.71 L182.32,17.57 L182.83,17.43 L183.34,17.29 L183.84,17.16 L184.35,17.02 L184.86,16.89 L185.37,16.75 L185.88,16.62 L186.39,16.49 L186.90,16.35 L187.41,16.22 L187.92,16.09 L188.43,15.96 L188.93,15.83 L189.44,15.70 L189.95,15.57 L190.46,15.45 L190.97,15.32 L191.48,15.19 L191.99,15.07 L192.50,14.94 L193.01,14.82 L193.52,14.69 L194.03,14.57 L194.53,14.45 L195.04,14.32 L195.55,14.20 L196.06,14.08 L196.57,13.96 L197.08,13.84 L197.59,13.72 L198.10,13.60 L198.61,13.48 L199.12,13.36 L199.62,13.25 L200.13,13.13 L200.64,13.01 L201.15,12.90 L201.66,12.78 L202.17,12.67 L202.68,12.55 L203.19,12.44 L203.70,12.33 L204.21,12.21 L204.71,12.10 L205.22,11.99 L205.73,11.88 L206.24,11.77 L206.75,11.66 L207.26,11.55 L207.77,11.44 L208.28,11.33 L208.79,11.22 L209.30,11.11 L209.80,11.01 L210.31,10.90 L210.82,10.79 L211.33,10.69 L211.84,10.58 L212.35,10.48 L212.86,10.37 L213.37,10.27 L213.88,10.16 L214.39,10.06 L214.89,9.96 L215.40,9.85 L215.91,9.75 L216.42,9.65 L216.93,9.55 L217.44,9.45 L217.95,9.35 L218.46,9.25 L218.97,9.15 L219.48,9.05 L219.98,8.95 L220.49,8.86 L221.00,8.76 L221.51,8.66 L222.02,8.56 L222.53,8.47 L223.04,8.37 L223.55,8.28 L224.06,8.18 L224.57,8.08 L225.08,7.99 L225.58,7.90 L226.09,7.80 L226.60,7.71 L227.11,7.62 L227.62,7.52 L228.13,7.43 L228.64,7.34 L229.15,7.25 L229.66,7.16 L230.17,7.07 L230.67,6.98 L231.18,6.89 L231.69,6.80 L232.20,6.71 L232.71,6.62 L233.22,6.53 L233.73,6.44 L234.24,6.35 L234.75,6.27 L235.26,6.18 L235.76,6.09 L236.27,6.00 L236.78,5.92 L237.29,5.83 L237.80,5.75 L238.31,5.66 L238.82,5.58 L239.33,5.49 L239.84,5.41 L240.35,5.32 L240.85,5.24 L241.36,5.16 L241.87,5.07 L242.38,4.99 L242.89,4.91 L243.40,4.83 L243.91,4.74 L244.42,4.66 L244.93,4.58 L245.44,4.50 L245.94,4.42 L246.45,4.34 L246.96,4.26 L247.47,4.18 L247.98,4.10 L248.49,4.02 L249.00,3.94 L249.51,3.86 L250.02,3.78 L250.53,3.71 L251.04,3.63 L251.54,3.55 L252.05,3.47 L252.56,3.40 L253.07,3.32 L253.58,3.24 L254.09,3.17 L254.60,3.09 L255.11,3.01 L255.62,2.94 L256.13,2.86 L256.63,2.79 L257.14,2.71 L257.65,2.64 L258.16,2.57 L258.67,2.49 L259.18,2.42 L259.69,2.34 L260.20,2.27 L260.71,2.20 L261.22,2.13 L261.72,2.05 L262.23,1.98 L262.74,1.91 L263.25,1.84 L263.76,1.77 L264.27,1.69 L264.78,1.62 L265.29,1.55 L265.80,1.48 L266.31,1.41 L266.81,1.34 L267.32,1.27 L267.83,1.20 L268.34,1.13 L268.85,1.06 L269.36,0.99 L269.87,0.92 L270.38,0.86 L270.89,0.79 L271.40,0.72 L271.90,0.65 L272.41,0.58 L272.92,0.52 L273.43,0.45 L273.94,0.38 L274.45,0.31 L274.96,0.25 L275.47,0.18 L275.98,0.11 L276.49,0.05 L276.99,-0.02 L277.50,-0.08 L278.01,-0.15 L278.52,-0.21 L279.03,-0.28 L279.54,-0.35 L280.05,-0.41 L280.56,-0.47 L281.07,-0.54 L281.58,-0.60 L282.09,-0.67 L282.59,-0.73 L283.10,-0.80 L283.61,-0.86 L284.12,-0.92 L284.63,-0.99 L285.14,-1.05 L285.65,-1.11 L286.16,-1.17 L286.67,-1.24 L287.18,-1.30 L287.68,-1.36 L288.19,-1.42 L288.70,-1.49 L289.21,-1.55 L289.72,-1.61 L290.23,-1.67 L290.74,-1.73 L291.25,-1.79 L291.76,-1.85 L292.27,-1.91 L292.77,-1.98 L293.28,-2.04 L293.79,-2.10 L294.30,-2.16 L294.81,-2.22 L295.32,-2.28 L295.83,-2.34 L296.34,-2.39 L296.85,-2.45 L297.36,-2.51 L297.86,-2.57 L298.37,-2.63 L298.88,-2.69 L299.39,-2.75 L299.90,-2.81 L300.41,-2.87 L300.92,-2.92 L301.43,-2.98 L301.94,-3.04 L302.45,-3.10 L302.95,-3.16 L303.46,-3.21 L303.97,-3.27 L304.48,-3.33 L304.99,-3.38 L305.50,-3.44" stroke="#ff00ff"/>
</g>
<g clip-path="url(#c2)" fill="none" stroke-width="1.4" stroke-linejoin="round">
<path d="M51.50,242.20 L52.01,242.20 L52.52,242.19 L53.03,242.18 L53.54,242.17 L54.05,242.15 L54.55,242.13 L55.06,242.10 L55.57,242.07 L56.08,242.03 L56.59,241.99 L57.10,241.83 L57.61,241.53 L58.12,241.11 L58.63,240.61 L59.14,240.05 L59.64,239.46 L60.15,238.79 L60.66,237.94 L61.17,236.94 L61.68,235.84 L62.19,234.67 L62.70,233.47 L63.21,232.26 L63.72,230.95 L64.23,229.55 L64.73,228.08 L65.24,226.57 L65.75,225.04 L66.26,223.43 L66.77,221.76 L67.28,220.06 L67.79,218.35 L68.30,216.68 L68.81,215.07 L69.32,213.49 L69.82,211.89 L70.33,210.24 L70.84,208.50 L71.35,206.61 L71.86,204.54 L72.37,202.38 L72.88,200.20 L73.39,198.07 L73.90,196.06 L74.41,194.24 L74.91,192.54 L75.42,190.91 L75.93,189.34 L76.44,187.81 L76.95,186.33 L77.46,184.88 L77.97,183.46 L78.48,182.07 L78.99,180.72 L79.50,179.39 L80.01,178.09 L80.51,176.81 L81.02,175.58 L81.53,174.39 L82.04,173.25 L82.55,172.16 L83.06,171.11 L83.57,170.09 L84.08,169.11 L84.59,168.15 L85.10,167.23 L85.60,166.34 L86.11,165.47 L86.62,164.64 L87.13,163.83 L87.64,163.04 L88.15,162.29 L88.66,161.55 L89.17,160.84 L89.68,160.15 L90.19,159.48 L90.69,158.84 L91.20,158.21 L91.71,157.61 L92.22,157.02 L92.73,156.45 L93.24,155.90 L93.75,155.36 L94.26,154.85 L94.77,154.34 L95.28,153.86 L95.78,153.39 L96.29,152.93 L96.80,152.48 L97.31,152.05 L97.82,151.64 L98.33,151.23 L98.84,150.84 L99.35,150.46 L99.86,150.09 L100.37,149.73 L100.87,149.38 L101.38,149.04 L101.89,148.71 L102.40,148.39 L102.91,148.08 L103.42,147.78 L103.93,147.49 L104.44,147.20 L104.95,146.93 L105.46,146.66 L105.96,146.39 L106.47,146.14 L106.98,145.89 L107.49,145.65 L108.00,145.42 L108.51,145.19 L109.02,144.97 L109.53,144.75 L110.04,144.54 L110.55,144.34 L111.06,144.14 L111.56,143.94 L112.07,143.75 L112.58,143.57 L113.09,143.39 L113.60,143.21 L114.11,143.04 L114.62,142.87 L115.13,142.71 L115.64,142.55 L116.15,142.39 L116.65,142.24 L117.16,142.09 L117.67,141.95 L118.18,141.80 L118.69,141.66 L119.20,141.53 L119.71,141.40 L120.22,141.27 L120.73,141.14 L121.24,141.01 L121.74,140.89 L122.25,140.77 L122.76,140.66 L123.27,140.54 L123.78,140.43 L124.29,140.32 L124.80,140.21 L125.31,140.11 L125.82,140.00 L126.33,139.90 L126.83,139.80 L127.34,139.70 L127.85,139.61 L128.36,139.51 L128.87,139.42 L129.38,139.33 L129.89,139.24 L130.40,139.15 L130.91,139.06 L131.42,138.98 L131.92,138.89 L132.43,138.81 L132.94,138.73 L133.45,138.65 L133.96,138.57 L134.47,138.49 L134.98,138.41 L135.49,138.34 L136.00,138.26 L136.51,138.19 L137.02,138.12 L137.52,138.04 L138.03,137.97 L138.54,137.90 L139.05,137.84 L139.56,137.77 L140.07,137.70 L140.58,137.63 L141.09,137.57 L141.60,137.50 L142.11,137.44 L142.61,137.38 L143.12,137.31 L143.63,137.25 L144.14,137.19 L144.65,137.13 L145.16,137.07 L145.67,137.01 L146.18,136.95 L146.69,136.89 L147.20,136.84 L147.70,136.78 L148.21,136.72 L148.72,136.67 L149.23,136.61 L149.74,136.56 L150.25,136.50 L150.76,136.45 L151.27,136.39 L151.78,136.34 L152.29,136.29 L152.79,136.24 L153.30,136.18 L153.81,136.13 L154.32,136.08 L154.83,136.03 L155.34,135.98 L155.85,135.93 L156.36,135.88 L156.87,135.83 L157.38,135.78 L157.88,135.73 L158.39,135.69 L158.90,135.64 L159.41,135.59 L159.92,135.54 L160.43,135.50 L160.94,135.45 L161.45,135.40 L161.96,135.36 L162.47,135.31 L162.97,135.27 L163.48,135.22 L163.99,135.18 L164.50,135.13 L165.01,135.09 L165.52,135.04 L166.03,135.00 L166.54,134.95 L167.05,134.91 L167.56,134.87 L168.07,134.82 L168.57,134.78 L169.08,134.74 L169.59,134.70 L170.10,134.66 L170.61,134.61 L171.12,134.57 L171.63,134.53 L172.14,134.49 L172.65,134.45 L173.16,134.41 L173.66,134.37 L174.17,134.33 L174.68,134.28 L175.19,134.24 L175.70,134.20 L176.21,134.16 L176.72,134.13 L177.23,134.09 L177.74,134.05 L178.25,134.01 L178.75,133.97 L179.26,133.93 L179.77,133.89 L180.28,133.85 L180.79,133.81 L181.30,133.78 L181.81,133.74 L182.32,133.70 L182.83,133.66 L183.34,133.63 L183.84,133.59 L184.35,133.55 L184.86,133.51 L185.37,133.48 L185.88,133.44 L186.39,133.40 L186.90,133.37 L187.41,133.33 L187.92,133.29 L188.43,133.26 L188.93,133.22 L189.44,133.19 L189.95,133.15 L190.46,133.11 L190.97,133.08 L191.48,133.04 L191.99,133.01 L192.50,132.97 L193.01,132.94 L193.52,132.90 L194.03,132.87 L194.53,132.84 L195.04,132.80 L195.55,132.77 L196.06,132.73 L196.57,132.70 L197.08,132.66 L197.59,132.63 L198.10,132.60 L198.61,132.56 L199.12,132.53 L199.62,132.50 L200.13,132.46 L200.64,132.43 L201.15,132.40 L201.66,132.36 L202.17,132.33 L202.68,132.30 L203.19,132.27 L203.70,132.23 L204.21,132.20 L204.71,132.17 L205.22,132.14 L205.73,132.11 L206.24,132.07 L206.75,132.04 L207.26,132.01 L207.77,131.98 L208.28,131.95 L208.79,131.92 L209.30,131.89 L209.80,131.85 L210.31,131.82 L210.82,131.79 L211.33,131.76 L211.84,131.73 L212.35,131.70 L212.86,131.67 L213.37,131.64 L213.88,131.61 L214.39,131.58 L214.89,131.55 L215.40,131.52 L215.91,131.49 L216.42,131.46 L216.93,131.43 L217.44,131.40 L217.95,131.37 L218.46,131.34 L218.97,131.31 L219.48,131.28 L219.98,131.25 L220.49,131.22 L221.00,131.20 L221.51,131.17 L222.02,131.14 L222.53,131.11 L223.04,131.08 L223.55,131.05 L224.06,131.02 L224.57,131.00 L225.08,130.97 L225.58,130.94 L226.09,130.91 L226.60,130.88 L227.11,130.86 L227.62,130.83 L228.13,130.80 L228.64,130.77 L229.15,130.75 L229.66,130.72 L230.17,130.69 L230.67,130.66 L231.18,130.64 L231.69,130.61 L232.20,130.58 L232.71,130.56 L233.22,130.53 L233.73,130.50 L234.24,130.48 L234.75,130.45 L235.26,130.42 L235.76,130.40 L236.27,130.37 L236.78,130.34 L237.29,130.32 L237.80,130.29 L238.31,130.27 L238.82,130.24 L239.33,130.22 L239.84,130.19 L240.35,130.16 L240.85,130.14 L241.36,130.11 L241.87,130.09 L242.38,130.06 L242.89,130.04 L243.40,130.01 L243.91,129.99 L244.42,129.96 L244.93,129.94 L245.44,129.91 L245.94,129.89 L246.45,129.86 L246.96,129.84 L247.47,129.82 L247.98,129.79 L248.49,129.77 L249.00,129.74 L249.51,129.72 L250.02,129.69 L250.53,129.67 L251.04,129.65 L251.54,129.62 L252.05,129.60 L252.56,129.58 L253.07,129.55 L253.58,129.53 L254.09,129.50 L254.60,129.48 L255.11,129.46 L255.62,129.43 L256.13,129.41 L256.63,129.39 L257.14,129.37 L257.65,129.34 L258.16,129.32 L258.67,129.30 L259.18,129.27 L259.69,129.25 L260.20,129.23 L260.71,129.21 L261.22,129.18 L261.72,129.16 L262.23,129.14 L262.74,129.12 L263.25,129.10 L263.76,129.07 L264.27,129.05 L264.78,129.03 L265.29,129.01 L265.80,128.99 L266.31,128.96 L266.81,128.94 L267.32,128.92 L267.83,128.90 L268.34,128.88 L268.85,128.86 L269.36,128.84 L269.87,128.82 L270.38,128.79 L270.89,128.77 L271.40,128.75 L271.90,128.73 L272.41,128.71 L272.92,128.69 L273.43,128.67 L273.94,128.65 L274.45,128.63 L274.96,128.61 L275.47,128.59 L275.98,128.57 L276.49,128.55 L276.99,128.53 L277.50,128.51 L278.01,128.49 L278.52,128.46 L279.03,128.44 L279.54,128.43 L280.05,128.41 L280.56,128.39 L281.07,128.37 L281.58,128.35 L282.09,128.33 L282.59,128.31 L283.10,128.29 L283.61,128.27 L284.12,128.25 L284.63,128.23 L285.14,128.21 L285.65,128.19 L286.16,128.17 L286.67,128.15 L287.18,128.13 L287.68,128.11 L288.19,128.10 L288.70,128.08 L289.21,128.06 L289.72,128.04 L290.23,128.02 L290.74,128.00 L291.25,127.98 L291.76,127.97 L292.27,127.95 L292.77,127.93 L293.28,127.91 L293.79,127.89 L294.30,127.87 L294.81,127.86 L295.32,127.84 L295.83,127.82 L296.34,127.80 L296.85,127.78 L297.36,127.77 L297.86,127.75 L298.37,127.73 L298.88,127.71 L299.39,127.70 L299.90,127.68 L300.41,127.66 L300.92,127.64 L301.43,127.63 L301.94,127.61 L302.45,127.59 L302.95,127.57 L303.46,127.56 L303.97,127.54 L304.48,127.52 L304.99,127.51 L305.50,127.49" stroke="#000000"/>
<path d="M51.50,241.91 L52.01,241.89 L52.52,241.83 L53.03,241.74 L53.54,241.61 L54.05,241.45 L54.55,241.26 L55.06,241.04 L55.57,240.79 L56.08,240.52 L56.59,240.22 L57.10,239.90 L57.61,239.56 L58.12,239.16 L58.63,238.52 L59.14,237.67 L59.64,236.69 L60.15,235.66 L60.66,234.64 L61.17,233.52 L61.68,232.30 L62.19,231.04 L62.70,229.74 L63.21,228.38 L63.72,226.97 L64.23,225.53 L64.73,224.06 L65.24,222.54 L65.75,220.98 L66.26,219.41 L66.77,217.85 L67.28,216.31 L67.79,214.80 L68.30,213.28 L68.81,211.74 L69.32,210.15 L69.82,208.51 L70.33,206.82 L70.84,205.14 L71.35,203.50 L71.86,201.87 L72.37,200.23 L72.88,198.62 L73.39,197.04 L73.90,195.52 L74.41,194.07 L74.91,192.68 L75.42,191.32 L75.93,189.97 L76.44,188.64 L76.95,187.33 L77.46,186.03 L77.97,184.75 L78.48,183.49 L78.99,182.26 L79.50,181.06 L80.01,179.90 L80.51,178.77 L81.02,177.70 L81.53,176.67 L82.04,175.69 L82.55,174.74 L83.06,173.82 L83.57,172.94 L84.08,172.08 L84.59,171.25 L85.10,170.44 L85.60,169.67 L86.11,168.91 L86.62,168.19 L87.13,167.48 L87.64,166.80 L88.15,166.14 L88.66,165.50 L89.17,164.88 L89.68,164.28 L90.19,163.70 L90.69,163.14 L91.20,162.59 L91.71,162.07 L92.22,161.56 L92.73,161.06 L93.24,160.58 L93.75,160.12 L94.26,159.67 L94.77,159.23 L95.28,158.81 L95.78,158.40 L96.29,158.00 L96.80,157.62 L97.31,157.24 L97.82,156.88 L98.33,156.53 L98.84,156.19 L99.35,155.86 L99.86,155.54 L100.37,155.23 L100.87,154.92 L101.38,154.63 L101.89,154.35 L102.40,154.07 L102.91,153.80 L103.42,153.54 L103.93,153.29 L104.44,153.04 L104.95,152.80 L105.46,152.57 L105.96,152.35 L106.47,152.13 L106.98,151.91 L107.49,151.70 L108.00,151.50 L108.51,151.31 L109.02,151.12 L109.53,150.93 L110.04,150.75 L110.55,150.57 L111.06,150.40 L111.56,150.23 L112.07,150.07 L112.58,149.91 L113.09,149.76 L113.60,149.61 L114.11,149.46 L114.62,149.32 L115.13,149.18 L115.64,149.04 L116.15,148.91 L116.65,148.78 L117.16,148.65 L117.67,148.53 L118.18,148.41 L118.69,148.29 L119.20,148.17 L119.71,148.06 L120.22,147.95 L120.73,147.84 L121.24,147.74 L121.74,147.64 L122.25,147.53 L122.76,147.44 L123.27,147.34 L123.78,147.24 L124.29,147.15 L124.80,147.06 L125.31,146.97 L125.82,146.88 L126.33,146.80 L126.83,146.71 L127.34,146.63 L127.85,146.55 L128.36,146.47 L128.87,146.39 L129.38,146.32 L129.89,146.24 L130.40,146.17 L130.91,146.09 L131.42,146.02 L131.92,145.95 L132.43,145.88 L132.94,145.82 L133.45,145.75 L133.96,145.68 L134.47,145.62 L134.98,145.56 L135.49,145.49 L136.00,145.43 L136.51,145.37 L137.02,145.31 L137.52,145.25 L138.03,145.19 L138.54,145.13 L139.05,145.08 L139.56,145.02 L140.07,144.97 L140.58,144.91 L141.09,144.86 L141.60,144.80 L142.11,144.75 L142.61,144.70 L143.12,144.65 L143.63,144.60 L144.14,144.55 L144.65,144.50 L145.16,144.45 L145.67,144.40 L146.18,144.35 L146.69,144.30 L147.20,144.26 L147.70,144.21 L148.21,144.16 L148.72,144.12 L149.23,144.07 L149.74,144.03 L150.25,143.98 L150.76,143.94 L151.27,143.89 L151.78,143.85 L152.29,143.81 L152.79,143.77 L153.30,143.72 L153.81,143.68 L154.32,143.64 L154.83,143.60 L155.34,143.56 L155.85,143.52 L156.36,143.48 L156.87,143.44 L157.38,143.40 L157.88,143.36 L158.39,143.32 L158.90,143.28 L159.41,143.24 L159.92,143.20 L160.43,143.17 L160.94,143.13 L161.45,143.09 L161.96,143.05 L162.47,143.02 L162.97,142.98 L163.48,142.94 L163.99,142.91 L164.50,142.87 L165.01,142.83 L165.52,142.80 L166.03,142.76 L166.54,142.73 L167.05,142.69 L167.56,142.66 L168.07,142.62 L168.57,142.59 L169.08,142.55 L169.59,142.52 L170.10,142.49 L170.61,142.45 L171.12,142.42 L171.63,142.39 L172.14,142.35 L172.65,142.32 L173.16,142.29 L173.66,142.25 L174.17,142.22 L174.68,142.19 L175.19,142.16 L175.70,142.12 L176.21,142.09 L176.72,142.06 L177.23,142.03 L177.74,142.00 L178.25,141.96 L178.75,141.93 L179.26,141.90 L179.77,141.87 L180.28,141.84 L180.79,141.81 L181.30,141.78 L181.81,141.75 L182.32,141.72 L182.83,141.69 L183.34,141.66 L183.84,141.63 L184.35,141.60 L184.86,141.57 L185.37,141.54 L185.88,141.51 L186.39,141.48 L186.90,141.45 L187.41,141.42 L187.92,141.39 L188.43,141.36 L188.93,141.33 L189.44,141.30 L189.95,141.27 L190.46,141.24 L190.97,141.22 L191.48,141.19 L191.99,141.16 L192.50,141.13 L193.01,141.10 L193.52,141.07 L194.03,141.05 L194.53,141.02 L195.04,140.99 L195.55,140.96 L196.06,140.94 L196.57,140.91 L197.08,140.88 L197.59,140.85 L198.10,140.83 L198.61,140.80 L199.12,140.77 L199.62,140.75 L200.13,140.72 L200.64,140.69 L201.15,140.67 L201.66,140.64 L202.17,140.61 L202.68,140.59 L203.19,140.56 L203.70,140.53 L204.21,140.51 L204.71,140.48 L205.22,140.46 L205.73,140.43 L206.24,140.41 L206.75,140.38 L207.26,140.35 L207.77,140.33 L208.28,140.30 L208.79,140.28 L209.30,140.25 L209.80,140.23 L210.31,140.20 L210.82,140.18 L211.33,140.15 L211.84,140.13 L212.35,140.10 L212.86,140.08 L213.37,140.05 L213.88,140.03 L214.39,140.01 L214.89,139.98 L215.40,139.96 L215.91,139.93 L216.42,139.91 L216.93,139.89 L217.44,139.86 L217.95,139.84 L218.46,139.81 L218.97,139.79 L219.48,139.77 L219.98,139.74 L220.49,139.72 L221.00,139.70 L221.51,139.67 L222.02,139.65 L222.53,139.63 L223.04,139.60 L223.55,139.58 L224.06,139.56 L224.57,139.53 L225.08,139.51 L225.58,139.49 L226.09,139.47 L226.60,139.44 L227.11,139.42 L227.62,139.40 L228.13,139.38 L228.64,139.35 L229.15,139.33 L229.66,139.31 L230.17,139.29 L230.67,139.27 L231.18,139.24 L231.69,139.22 L232.20,139.20 L232.71,139.18 L233.22,139.16 L233.73,139.14 L234.24,139.11 L234.75,139.09 L235.26,139.07 L235.76,139.05 L236.27,139.03 L236.78,139.01 L237.29,138.99 L237.80,138.97 L238.31,138.94 L238.82,138.92 L239.33,138.90 L239.84,138.88 L240.35,138.86 L240.85,138.84 L241.36,138.82 L241.87,138.80 L242.38,138.78 L242.89,138.76 L243.40,138.74 L243.91,138.72 L244.42,138.70 L244.93,138.68 L245.44,138.66 L245.94,138.64 L246.45,138.62 L246.96,138.60 L247.47,138.58 L247.98,138.56 L248.49,138.54 L249.00,138.52 L249.51,138.50 L250.02,138.48 L250.53,138.46 L251.04,138.44 L251.54,138.42 L252.05,138.40 L252.56,138.38 L253.07,138.36 L253.58,138.35 L254.09,138.33 L254.60,138.31 L255.11,138.29 L255.62,138.27 L256.13,138.25 L256.63,138.23 L257.14,138.21 L257.65,138.20 L258.16,138.18 L258.67,138.16 L259.18,138.14 L259.69,138.12 L260.20,138.10 L260.71,138.08 L261.22,138.07 L261.72,138.05 L262.23,138.03 L262.74,138.01 L263.25,137.99 L263.76,137.98 L264.27,137.96 L264.78,137.94 L265.29,137.92 L265.80,137.91 L266.31,137.89 L266.81,137.87 L267.32,137.85 L267.83,137.83 L268.34,137.82 L268.85,137.80 L269.36,137.78 L269.87,137.77 L270.38,137.75 L270.89,137.73 L271.40,137.71 L271.90,137.70 L272.41,137.68 L272.92,137.66 L273.43,137.65 L273.94,137.63 L274.45,137.61 L274.96,137.60 L275.47,137.58 L275.98,137.56 L276.49,137.55 L276.99,137.53 L277.50,137.51 L278.01,137.50 L278.52,137.48 L279.03,137.46 L279.54,137.45 L280.05,137.43 L280.56,137.42 L281.07,137.40 L281.58,137.38 L282.09,137.37 L282.59,137.35 L283.10,137.34 L283.61,137.32 L284.12,137.30 L284.63,137.29 L285.14,137.27 L285.65,137.26 L286.16,137.24 L286.67,137.23 L287.18,137.21 L287.68,137.19 L288.19,137.18 L288.70,137.16 L289.21,137.15 L289.72,137.13 L290.23,137.12 L290.74,137.10 L291.25,137.09 L291.76,137.07 L292.27,137.06 L292.77,137.04 L293.28,137.03 L293.79,137.01 L294.30,137.00 L294.81,136.98 L295.32,136.97 L295.83,136.95 L296.34,136.94 L296.85,136.92 L297.36,136.91 L297.86,136.90 L298.37,136.88 L298.88,136.87 L299.39,136.85 L299.90,136.84 L300.41,136.82 L300.92,136.81 L301.43,136.79 L301.94,136.78 L302.45,136.77 L302.95,136.75 L303.46,136.74 L303.97,136.72 L304.48,136.71 L304.99,136.70 L305.50,136.68" stroke="#ff0000"/>
<path d="M51.50,241.62 L52.01,241.58 L52.52,241.47 L53.03,241.29 L53.54,241.06 L54.05,240.77 L54.55,240.45 L55.06,240.10 L55.57,239.72 L56.08,239.32 L56.59,238.79 L57.10,238.10 L57.61,237.28 L58.12,236.39 L58.63,235.47 L59.14,234.52 L59.64,233.46 L60.15,232.31 L60.66,231.12 L61.17,229.90 L61.68,228.63 L62.19,227.31 L62.70,225.96 L63.21,224.59 L63.72,223.20 L64.23,221.78 L64.73,220.33 L65.24,218.87 L65.75,217.41 L66.26,215.96 L66.77,214.51 L67.28,213.05 L67.79,211.57 L68.30,210.08 L68.81,208.54 L69.32,206.98 L69.82,205.44 L70.33,203.98 L70.84,202.60 L71.35,201.27 L71.86,199.97 L72.37,198.70 L72.88,197.46 L73.39,196.25 L73.90,195.06 L74.41,193.89 L74.91,192.74 L75.42,191.59 L75.93,190.44 L76.44,189.28 L76.95,188.13 L77.46,186.99 L77.97,185.85 L78.48,184.74 L78.99,183.65 L79.50,182.59 L80.01,181.56 L80.51,180.58 L81.02,179.63 L81.53,178.73 L82.04,177.86 L82.55,177.04 L83.06,176.23 L83.57,175.46 L84.08,174.70 L84.59,173.97 L85.10,173.27 L85.60,172.58 L86.11,171.92 L86.62,171.28 L87.13,170.66 L87.64,170.06 L88.15,169.47 L88.66,168.91 L89.17,168.36 L89.68,167.83 L90.19,167.32 L90.69,166.82 L91.20,166.33 L91.71,165.87 L92.22,165.41 L92.73,164.97 L93.24,164.54 L93.75,164.13 L94.26,163.73 L94.77,163.34 L95.28,162.96 L95.78,162.59 L96.29,162.24 L96.80,161.89 L97.31,161.56 L97.82,161.23 L98.33,160.92 L98.84,160.61 L99.35,160.31 L99.86,160.02 L100.37,159.74 L100.87,159.47 L101.38,159.21 L101.89,158.95 L102.40,158.70 L102.91,158.46 L103.42,158.22 L103.93,157.99 L104.44,157.77 L104.95,157.55 L105.46,157.34 L105.96,157.13 L106.47,156.93 L106.98,156.74 L107.49,156.55 L108.00,156.37 L108.51,156.19 L109.02,156.01 L109.53,155.84 L110.04,155.68 L110.55,155.52 L111.06,155.36 L111.56,155.21 L112.07,155.06 L112.58,154.91 L113.09,154.77 L113.60,154.63 L114.11,154.50 L114.62,154.37 L115.13,154.24 L115.64,154.12 L116.15,153.99 L116.65,153.87 L117.16,153.76 L117.67,153.64 L118.18,153.53 L118.69,153.42 L119.20,153.32 L119.71,153.22 L120.22,153.11 L120.73,153.01 L121.24,152.92 L121.74,152.82 L122.25,152.73 L122.76,152.64 L123.27,152.55 L123.78,152.46 L124.29,152.38 L124.80,152.30 L125.31,152.21 L125.82,152.13 L126.33,152.06 L126.83,151.98 L127.34,151.90 L127.85,151.83 L128.36,151.76 L128.87,151.68 L129.38,151.61 L129.89,151.55 L130.40,151.48 L130.91,151.41 L131.42,151.35 L131.92,151.28 L132.43,151.22 L132.94,151.16 L133.45,151.10 L133.96,151.04 L134.47,150.98 L134.98,150.92 L135.49,150.87 L136.00,150.81 L136.51,150.75 L137.02,150.70 L137.52,150.65 L138.03,150.59 L138.54,150.54 L139.05,150.49 L139.56,150.44 L140.07,150.39 L140.58,150.34 L141.09,150.29 L141.60,150.25 L142.11,150.20 L142.61,150.15 L143.12,150.11 L143.63,150.06 L144.14,150.02 L144.65,149.97 L145.16,149.93 L145.67,149.89 L146.18,149.84 L146.69,149.80 L147.20,149.76 L147.70,149.72 L148.21,149.68 L148.72,149.64 L149.23,149.60 L149.74,149.56 L150.25,149.52 L150.76,149.48 L151.27,149.45 L151.78,149.41 L152.29,149.37 L152.79,149.33 L153.30,149.30 L153.81,149.26 L154.32,149.23 L154.83,149.19 L155.34,149.16 L155.85,149.12 L156.36,149.09 L156.87,149.05 L157.38,149.02 L157.88,148.99 L158.39,148.95 L158.90,148.92 L159.41,148.89 L159.92,148.85 L160.43,148.82 L160.94,148.79 L161.45,148.76 L161.96,148.73 L162.47,148.70 L162.97,148.67 L163.48,148.64 L163.99,148.60 L164.50,148.57 L165.01,148.54 L165.52,148.52 L166.03,148.49 L166.54,148.46 L167.05,148.43 L167.56,148.40 L168.07,148.37 L168.57,148.34 L169.08,148.31 L169.59,148.29 L170.10,148.26 L170.61,148.23 L171.12,148.20 L171.63,148.18 L172.14,148.15 L172.65,148.12 L173.16,148.10 L173.66,148.07 L174.17,148.04 L174.68,148.02 L175.19,147.99 L175.70,147.96 L176.21,147.94 L176.72,147.91 L177.23,147.89 L177.74,147.86 L178.25,147.84 L178.75,147.81 L179.26,147.79 L179.77,147.76 L180.28,147.74 L180.79,147.71 L181.30,147.69 L181.81,147.67 L182.32,147.64 L182.83,147.62 L183.34,147.60 L183.84,147.57 L184.35,147.55 L184.86,147.52 L185.37,147.50 L185.88,147.48 L186.39,147.46 L186.90,147.43 L187.41,147.41 L187.92,147.39 L188.43,147.37 L188.93,147.34 L189.44,147.32 L189.95,147.30 L190.46,147.28 L190.97,147.26 L191.48,147.23 L191.99,147.21 L192.50,147.19 L193.01,147.17 L193.52,147.15 L194.03,147.13 L194.53,147.11 L195.04,147.09 L195.55,147.06 L196.06,147.04 L196.57,147.02 L197.08,147.00 L197.59,146.98 L198.10,146.96 L198.61,146.94 L199.12,146.92 L199.62,146.90 L200.13,146.88 L200.64,146.86 L201.15,146.84 L201.66,146.82 L202.17,146.80 L202.68,146.78 L203.19,146.77 L203.70,146.75 L204.21,146.73 L204.71,146.71 L205.22,146.69 L205.73,146.67 L206.24,146.65 L206.75,146.63 L207.26,146.61 L207.77,146.60 L208.28,146.58 L208.79,146.56 L209.30,146.54 L209.80,146.52 L210.31,146.51 L210.82,146.49 L211.33,146.47 L211.84,146.45 L212.35,146.43 L212.86,146.42 L213.37,146.40 L213.88,146.38 L214.39,146.36 L214.89,146.35 L215.40,146.33 L215.91,146.31 L216.42,146.30 L216.93,146.28 L217.44,146.26 L217.95,146.25 L218.46,146.23 L218.97,146.21 L219.48,146.20 L219.98,146.18 L220.49,146.16 L221.00,146.15 L221.51,146.13 L222.02,146.11 L222.53,146.10 L223.04,146.08 L223.55,146.07 L224.06,146.05 L224.57,146.04 L225.08,146.02 L225.58,146.00 L226.09,145.99 L226.60,145.97 L227.11,145.96 L227.62,145.94 L228.13,145.93 L228.64,145.91 L229.15,145.90 L229.66,145.88 L230.17,145.87 L230.67,145.85 L231.18,145.84 L231.69,145.82 L232.20,145.81 L232.71,145.79 L233.22,145.78 L233.73,145.76 L234.24,145.75 L234.75,145.74 L235.26,145.72 L235.76,145.71 L236.27,145.69 L236.78,145.68 L237.29,145.66 L237.80,145.65 L238.31,145.64 L238.82,145.62 L239.33,145.61 L239.84,145.60 L240.35,145.58 L240.85,145.57 L241.36,145.55 L241.87,145.54 L242.38,145.53 L242.89,145.51 L243.40,145.50 L243.91,145.49 L244.42,145.47 L244.93,145.46 L245.44,145.45 L245.94,145.44 L246.45,145.42 L246.96,145.41 L247.47,145.40 L247.98,145.38 L248.49,145.37 L249.00,145.36 L249.51,145.35 L250.02,145.33 L250.53,145.32 L251.04,145.31 L251.54,145.30 L252.05,145.28 L252.56,145.27 L253.07,145.26 L253.58,145.25 L254.09,145.24 L254.60,145.22 L255.11,145.21 L255.62,145.20 L256.13,145.19 L256.63,145.18 L257.14,145.17 L257.65,145.15 L258.16,145.14 L258.67,145.13 L259.18,145.12 L259.69,145.11 L260.20,145.10 L260.71,145.08 L261.22,145.07 L261.72,145.06 L262.23,145.05 L262.74,145.04 L263.25,145.03 L263.76,145.02 L264.27,145.01 L264.78,145.00 L265.29,144.99 L265.80,144.97 L266.31,144.96 L266.81,144.95 L267.32,144.94 L267.83,144.93 L268.34,144.92 L268.85,144.91 L269.36,144.90 L269.87,144.89 L270.38,144.88 L270.89,144.87 L271.40,144.86 L271.90,144.85 L272.41,144.84 L272.92,144.83 L273.43,144.82 L273.94,144.81 L274.45,144.80 L274.96,144.79 L275.47,144.78 L275.98,144.77 L276.49,144.76 L276.99,144.75 L277.50,144.74 L278.01,144.73 L278.52,144.72 L279.03,144.71 L279.54,144.70 L280.05,144.69 L280.56,144.68 L281.07,144.67 L281.58,144.66 L282.09,144.65 L282.59,144.64 L283.10,144.63 L283.61,144.63 L284.12,144.62 L284.63,144.61 L285.14,144.60 L285.65,144.59 L286.16,144.58 L286.67,144.57 L287.18,144.56 L287.68,144.55 L288.19,144.54 L288.70,144.54 L289.21,144.53 L289.72,144.52 L290.23,144.51 L290.74,144.50 L291.25,144.49 L291.76,144.48 L292.27,144.47 L292.77,144.47 L293.28,144.46 L293.79,144.45 L294.30,144.44 L294.81,144.43 L295.32,144.42 L295.83,144.42 L296.34,144.41 L296.85,144.40 L297.36,144.39 L297.86,144.38 L298.37,144.38 L298.88,144.37 L299.39,144.36 L299.90,144.35 L300.41,144.34 L300.92,144.34 L301.43,144.33 L301.94,144.32 L302.45,144.31 L302.95,144.30 L303.46,144.30 L303.97,144.29 L304.48,144.28 L304.99,144.27 L305.50,144.27" stroke="#0000ff"/>
<path d="M51.50,241.40 L52.01,241.22 L52.52,240.97 L53.03,240.65 L53.54,240.28 L54.05,239.87 L54.55,239.42 L55.06,238.91 L55.57,238.29 L56.08,237.58 L56.59,236.80 L57.10,235.96 L57.61,235.10 L58.12,234.16 L58.63,233.12 L59.14,232.00 L59.64,230.86 L60.15,229.68 L60.66,228.46 L61.17,227.19 L61.68,225.90 L62.19,224.59 L62.70,223.27 L63.21,221.92 L63.72,220.56 L64.23,219.17 L64.73,217.79 L65.24,216.39 L65.75,214.99 L66.26,213.57 L66.77,212.15 L67.28,210.73 L67.79,209.28 L68.30,207.80 L68.81,206.34 L69.32,204.92 L69.82,203.61 L70.33,202.38 L70.84,201.20 L71.35,200.06 L71.86,198.95 L72.37,197.87 L72.88,196.82 L73.39,195.79 L73.90,194.76 L74.41,193.75 L74.91,192.74 L75.42,191.73 L75.93,190.71 L76.44,189.70 L76.95,188.70 L77.46,187.71 L77.97,186.74 L78.48,185.79 L78.99,184.87 L79.50,183.98 L80.01,183.12 L80.51,182.29 L81.02,181.49 L81.53,180.72 L82.04,179.98 L82.55,179.26 L83.06,178.57 L83.57,177.89 L84.08,177.24 L84.59,176.61 L85.10,175.99 L85.60,175.40 L86.11,174.82 L86.62,174.26 L87.13,173.71 L87.64,173.18 L88.15,172.67 L88.66,172.18 L89.17,171.69 L89.68,171.23 L90.19,170.77 L90.69,170.33 L91.20,169.90 L91.71,169.49 L92.22,169.09 L92.73,168.70 L93.24,168.32 L93.75,167.95 L94.26,167.59 L94.77,167.24 L95.28,166.90 L95.78,166.58 L96.29,166.26 L96.80,165.95 L97.31,165.65 L97.82,165.36 L98.33,165.07 L98.84,164.80 L99.35,164.53 L99.86,164.27 L100.37,164.01 L100.87,163.77 L101.38,163.53 L101.89,163.30 L102.40,163.07 L102.91,162.85 L103.42,162.63 L103.93,162.43 L104.44,162.22 L104.95,162.03 L105.46,161.83 L105.96,161.65 L106.47,161.46 L106.98,161.29 L107.49,161.11 L108.00,160.95 L108.51,160.78 L109.02,160.62 L109.53,160.47 L110.04,160.32 L110.55,160.17 L111.06,160.02 L111.56,159.88 L112.07,159.75 L112.58,159.61 L113.09,159.48 L113.60,159.36 L114.11,159.23 L114.62,159.11 L115.13,158.99 L115.64,158.88 L116.15,158.76 L116.65,158.65 L117.16,158.55 L117.67,158.44 L118.18,158.34 L118.69,158.24 L119.20,158.14 L119.71,158.05 L120.22,157.95 L120.73,157.86 L121.24,157.77 L121.74,157.68 L122.25,157.60 L122.76,157.51 L123.27,157.43 L123.78,157.35 L124.29,157.27 L124.80,157.20 L125.31,157.12 L125.82,157.05 L126.33,156.97 L126.83,156.90 L127.34,156.83 L127.85,156.76 L128.36,156.70 L128.87,156.63 L129.38,156.57 L129.89,156.50 L130.40,156.44 L130.91,156.38 L131.42,156.32 L131.92,156.26 L132.43,156.20 L132.94,156.15 L133.45,156.09 L133.96,156.03 L134.47,155.98 L134.98,155.93 L135.49,155.87 L136.00,155.82 L136.51,155.77 L137.02,155.72 L137.52,155.67 L138.03,155.62 L138.54,155.58 L139.05,155.53 L139.56,155.48 L140.07,155.44 L140.58,155.39 L141.09,155.35 L141.60,155.31 L142.11,155.26 L142.61,155.22 L143.12,155.18 L143.63,155.14 L144.14,155.10 L144.65,155.06 L145.16,155.02 L145.67,154.98 L146.18,154.94 L146.69,154.90 L147.20,154.86 L147.70,154.82 L148.21,154.79 L148.72,154.75 L149.23,154.71 L149.74,154.68 L150.25,154.64 L150.76,154.61 L151.27,154.57 L151.78,154.54 L152.29,154.51 L152.79,154.47 L153.30,154.44 L153.81,154.41 L154.32,154.37 L154.83,154.34 L155.34,154.31 L155.85,154.28 L156.36,154.25 L156.87,154.22 L157.38,154.19 L157.88,154.16 L158.39,154.13 L158.90,154.10 L159.41,154.07 L159.92,154.04 L160.43,154.01 L160.94,153.98 L161.45,153.95 L161.96,153.92 L162.47,153.89 L162.97,153.87 L163.48,153.84 L163.99,153.81 L164.50,153.78 L165.01,153.76 L165.52,153.73 L166.03,153.70 L166.54,153.68 L167.05,153.65 L167.56,153.63 L168.07,153.60 L168.57,153.57 L169.08,153.55 L169.59,153.52 L170.10,153.50 L170.61,153.47 L171.12,153.45 L171.63,153.42 L172.14,153.40 L172.65,153.38 L173.16,153.35 L173.66,153.33 L174.17,153.30 L174.68,153.28 L175.19,153.26 L175.70,153.23 L176.21,153.21 L176.72,153.19 L177.23,153.16 L177.74,153.14 L178.25,153.12 L178.75,153.10 L179.26,153.07 L179.77,153.05 L180.28,153.03 L180.79,153.01 L181.30,152.99 L181.81,152.96 L182.32,152.94 L182.83,152.92 L183.34,152.90 L183.84,152.88 L184.35,152.86 L184.86,152.84 L185.37,152.82 L185.88,152.79 L186.39,152.77 L186.90,152.75 L187.41,152.73 L187.92,152.71 L188.43,152.69 L188.93,152.67 L189.44,152.65 L189.95,152.63 L190.46,152.61 L190.97,152.59 L191.48,152.57 L191.99,152.55 L192.50,152.53 L193.01,152.51 L193.52,152.50 L194.03,152.48 L194.53,152.46 L195.04,152.44 L195.55,152.42 L196.06,152.40 L196.57,152.38 L197.08,152.36 L197.59,152.34 L198.10,152.33 L198.61,152.31 L199.12,152.29 L199.62,152.27 L200.13,152.25 L200.64,152.24 L201.15,152.22 L201.66,152.20 L202.17,152.18 L202.68,152.16 L203.19,152.15 L203.70,152.13 L204.21,152.11 L204.71,152.09 L205.22,152.08 L205.73,152.06 L206.24,152.04 L206.75,152.03 L207.26,152.01 L207.77,151.99 L208.28,151.98 L208.79,151.96 L209.30,151.94 L209.80,151.93 L210.31,151.91 L210.82,151.89 L211.33,151.88 L211.84,151.86 L212.35,151.84 L212.86,151.83 L213.37,151.81 L213.88,151.80 L214.39,151.78 L214.89,151.76 L215.40,151.75 L215.91,151.73 L216.42,151.72 L216.93,151.70 L217.44,151.68 L217.95,151.67 L218.46,151.65 L218.97,151.64 L219.48,151.62 L219.98,151.61 L220.49,151.59 L221.00,151.58 L221.51,151.56 L222.02,151.55 L222.53,151.53 L223.04,151.52 L223.55,151.50 L224.06,151.49 L224.57,151.47 L225.08,151.46 L225.58,151.45 L226.09,151.43 L226.60,151.42 L227.11,151.40 L227.62,151.39 L228.13,151.37 L228.64,151.36 L229.15,151.35 L229.66,151.33 L230.17,151.32 L230.67,151.30 L231.18,151.29 L231.69,151.28 L232.20,151.26 L232.71,151.25 L233.22,151.24 L233.73,151.22 L234.24,151.21 L234.75,151.20 L235.26,151.18 L235.76,151.17 L236.27,151.16 L236.78,151.14 L237.29,151.13 L237.80,151.12 L238.31,151.10 L238.82,151.09 L239.33,151.08 L239.84,151.06 L240.35,151.05 L240.85,151.04 L241.36,151.03 L241.87,151.01 L242.38,151.00 L242.89,150.99 L243.40,150.98 L243.91,150.96 L244.42,150.95 L244.93,150.94 L245.44,150.93 L245.94,150.91 L246.45,150.90 L246.96,150.89 L247.47,150.88 L247.98,150.87 L248.49,150.85 L249.00,150.84 L249.51,150.83 L250.02,150.82 L250.53,150.81 L251.04,150.79 L251.54,150.78 L252.05,150.77 L252.56,150.76 L253.07,150.75 L253.58,150.74 L254.09,150.72 L254.60,150.71 L255.11,150.70 L255.62,150.69 L256.13,150.68 L256.63,150.67 L257.14,150.66 L257.65,150.65 L258.16,150.64 L258.67,150.62 L259.18,150.61 L259.69,150.60 L260.20,150.59 L260.71,150.58 L261.22,150.57 L261.72,150.56 L262.23,150.55 L262.74,150.54 L263.25,150.53 L263.76,150.52 L264.27,150.51 L264.78,150.50 L265.29,150.48 L265.80,150.47 L266.31,150.46 L266.81,150.45 L267.32,150.44 L267.83,150.43 L268.34,150.42 L268.85,150.41 L269.36,150.40 L269.87,150.39 L270.38,150.38 L270.89,150.37 L271.40,150.36 L271.90,150.35 L272.41,150.34 L272.92,150.33 L273.43,150.32 L273.94,150.31 L274.45,150.30 L274.96,150.29 L275.47,150.29 L275.98,150.28 L276.49,150.27 L276.99,150.26 L277.50,150.25 L278.01,150.24 L278.52,150.23 L279.03,150.22 L279.54,150.21 L280.05,150.20 L280.56,150.19 L281.07,150.18 L281.58,150.17 L282.09,150.16 L282.59,150.15 L283.10,150.15 L283.61,150.14 L284.12,150.13 L284.63,150.12 L285.14,150.11 L285.65,150.10 L286.16,150.09 L286.67,150.08 L287.18,150.07 L287.68,150.07 L288.19,150.06 L288.70,150.05 L289.21,150.04 L289.72,150.03 L290.23,150.02 L290.74,150.01 L291.25,150.01 L291.76,150.00 L292.27,149.99 L292.77,149.98 L293.28,149.97 L293.79,149.96 L294.30,149.96 L294.81,149.95 L295.32,149.94 L295.83,149.93 L296.34,149.92 L296.85,149.92 L297.36,149.91 L297.86,149.90 L298.37,149.89 L298.88,149.88 L299.39,149.88 L299.90,149.87 L300.41,149.86 L300.92,149.85 L301.43,149.84 L301.94,149.84 L302.45,149.83 L302.95,149.82 L303.46,149.81 L303.97,149.81 L304.48,149.80 L304.99,149.79 L305.50,149.78" stroke="#606060"/>
<path d="M51.50,241.20 L52.01,240.74 L52.52,240.24 L53.03,239.70 L53.54,239.13 L54.05,238.53 L54.55,237.90 L55.06,237.23 L55.57,236.52 L56.08,235.76 L56.59,234.95 L57.10,234.03 L57.61,233.02 L58.12,231.94 L58.63,230.84 L59.14,229.71 L59.64,228.53 L60.15,227.31 L60.66,226.07 L61.17,224.82 L61.68,223.56 L62.19,222.28 L62.70,220.98 L63.21,219.67 L63.72,218.34 L64.23,217.01 L64.73,215.65 L65.24,214.27 L65.75,212.89 L66.26,211.51 L66.77,210.14 L67.28,208.74 L67.79,207.33 L68.30,205.95 L68.81,204.64 L69.32,203.44 L69.82,202.31 L70.33,201.23 L70.84,200.18 L71.35,199.17 L71.86,198.19 L72.37,197.24 L72.88,196.31 L73.39,195.40 L73.90,194.50 L74.41,193.62 L74.91,192.73 L75.42,191.85 L75.93,190.97 L76.44,190.09 L76.95,189.23 L77.46,188.39 L77.97,187.58 L78.48,186.79 L78.99,186.03 L79.50,185.30 L80.01,184.60 L80.51,183.93 L81.02,183.27 L81.53,182.64 L82.04,182.02 L82.55,181.42 L83.06,180.83 L83.57,180.26 L84.08,179.71 L84.59,179.17 L85.10,178.65 L85.60,178.14 L86.11,177.65 L86.62,177.17 L87.13,176.71 L87.64,176.26 L88.15,175.82 L88.66,175.40 L89.17,174.99 L89.68,174.58 L90.19,174.19 L90.69,173.81 L91.20,173.45 L91.71,173.09 L92.22,172.74 L92.73,172.40 L93.24,172.07 L93.75,171.75 L94.26,171.44 L94.77,171.14 L95.28,170.84 L95.78,170.56 L96.29,170.28 L96.80,170.01 L97.31,169.74 L97.82,169.49 L98.33,169.24 L98.84,168.99 L99.35,168.76 L99.86,168.53 L100.37,168.30 L100.87,168.08 L101.38,167.87 L101.89,167.66 L102.40,167.46 L102.91,167.26 L103.42,167.07 L103.93,166.89 L104.44,166.70 L104.95,166.53 L105.46,166.35 L105.96,166.18 L106.47,166.02 L106.98,165.86 L107.49,165.70 L108.00,165.55 L108.51,165.40 L109.02,165.26 L109.53,165.11 L110.04,164.98 L110.55,164.84 L111.06,164.71 L111.56,164.58 L112.07,164.45 L112.58,164.33 L113.09,164.21 L113.60,164.09 L114.11,163.98 L114.62,163.86 L115.13,163.76 L115.64,163.65 L116.15,163.54 L116.65,163.44 L117.16,163.34 L117.67,163.24 L118.18,163.14 L118.69,163.05 L119.20,162.96 L119.71,162.87 L120.22,162.78 L120.73,162.69 L121.24,162.61 L121.74,162.52 L122.25,162.44 L122.76,162.36 L123.27,162.28 L123.78,162.21 L124.29,162.13 L124.80,162.06 L125.31,161.99 L125.82,161.91 L126.33,161.84 L126.83,161.78 L127.34,161.71 L127.85,161.64 L128.36,161.58 L128.87,161.51 L129.38,161.45 L129.89,161.39 L130.40,161.33 L130.91,161.27 L131.42,161.21 L131.92,161.15 L132.43,161.10 L132.94,161.04 L133.45,160.98 L133.96,160.93 L134.47,160.88 L134.98,160.83 L135.49,160.77 L136.00,160.72 L136.51,160.67 L137.02,160.62 L137.52,160.57 L138.03,160.53 L138.54,160.48 L139.05,160.43 L139.56,160.39 L140.07,160.34 L140.58,160.30 L141.09,160.25 L141.60,160.21 L142.11,160.17 L142.61,160.13 L143.12,160.08 L143.63,160.04 L144.14,160.00 L144.65,159.96 L145.16,159.92 L145.67,159.88 L146.18,159.84 L146.69,159.81 L147.20,159.77 L147.70,159.73 L148.21,159.69 L148.72,159.66 L149.23,159.62 L149.74,159.58 L150.25,159.55 L150.76,159.51 L151.27,159.48 L151.78,159.45 L152.29,159.41 L152.79,159.38 L153.30,159.34 L153.81,159.31 L154.32,159.28 L154.83,159.25 L155.34,159.22 L155.85,159.18 L156.36,159.15 L156.87,159.12 L157.38,159.09 L157.88,159.06 L158.39,159.03 L158.90,159.00 L159.41,158.97 L159.92,158.94 L160.43,158.91 L160.94,158.88 L161.45,158.85 L161.96,158.83 L162.47,158.80 L162.97,158.77 L163.48,158.74 L163.99,158.72 L164.50,158.69 L165.01,158.66 L165.52,158.63 L166.03,158.61 L166.54,158.58 L167.05,158.56 L167.56,158.53 L168.07,158.50 L168.57,158.48 L169.08,158.45 L169.59,158.43 L170.10,158.40 L170.61,158.38 L171.12,158.35 L171.63,158.33 L172.14,158.31 L172.65,158.28 L173.16,158.26 L173.66,158.23 L174.17,158.21 L174.68,158.19 L175.19,158.16 L175.70,158.14 L176.21,158.12 L176.72,158.09 L177.23,158.07 L177.74,158.05 L178.25,158.03 L178.75,158.01 L179.26,157.98 L179.77,157.96 L180.28,157.94 L180.79,157.92 L181.30,157.90 L181.81,157.88 L182.32,157.85 L182.83,157.83 L183.34,157.81 L183.84,157.79 L184.35,157.77 L184.86,157.75 L185.37,157.73 L185.88,157.71 L186.39,157.69 L186.90,157.67 L187.41,157.65 L187.92,157.63 L188.43,157.61 L188.93,157.59 L189.44,157.57 L189.95,157.55 L190.46,157.53 L190.97,157.51 L191.48,157.49 L191.99,157.48 L192.50,157.46 L193.01,157.44 L193.52,157.42 L194.03,157.40 L194.53,157.38 L195.04,157.36 L195.55,157.35 L196.06,157.33 L196.57,157.31 L197.08,157.29 L197.59,157.27 L198.10,157.26 L198.61,157.24 L199.12,157.22 L199.62,157.20 L200.13,157.19 L200.64,157.17 L201.15,157.15 L201.66,157.14 L202.17,157.12 L202.68,157.10 L203.19,157.09 L203.70,157.07 L204.21,157.05 L204.71,157.04 L205.22,157.02 L205.73,157.00 L206.24,156.99 L206.75,156.97 L207.26,156.95 L207.77,156.94 L208.28,156.92 L208.79,156.91 L209.30,156.89 L209.80,156.88 L210.31,156.86 L210.82,156.85 L211.33,156.83 L211.84,156.81 L212.35,156.80 L212.86,156.78 L213.37,156.77 L213.88,156.75 L214.39,156.74 L214.89,156.72 L215.40,156.71 L215.91,156.70 L216.42,156.68 L216.93,156.67 L217.44,156.65 L217.95,156.64 L218.46,156.62 L218.97,156.61 L219.48,156.60 L219.98,156.58 L220.49,156.57 L221.00,156.55 L221.51,156.54 L222.02,156.53 L222.53,156.51 L223.04,156.50 L223.55,156.48 L224.06,156.47 L224.57,156.46 L225.08,156.44 L225.58,156.43 L226.09,156.42 L226.60,156.40 L227.11,156.39 L227.62,156.38 L228.13,156.37 L228.64,156.35 L229.15,156.34 L229.66,156.33 L230.17,156.31 L230.67,156.30 L231.18,156.29 L231.69,156.28 L232.20,156.26 L232.71,156.25 L233.22,156.24 L233.73,156.23 L234.24,156.22 L234.75,156.20 L235.26,156.19 L235.76,156.18 L236.27,156.17 L236.78,156.16 L237.29,156.14 L237.80,156.13 L238.31,156.12 L238.82,156.11 L239.33,156.10 L239.84,156.09 L240.35,156.07 L240.85,156.06 L241.36,156.05 L241.87,156.04 L242.38,156.03 L242.89,156.02 L243.40,156.01 L243.91,156.00 L244.42,155.98 L244.93,155.97 L245.44,155.96 L245.94,155.95 L246.45,155.94 L246.96,155.93 L247.47,155.92 L247.98,155.91 L248.49,155.90 L249.00,155.89 L249.51,155.88 L250.02,155.87 L250.53,155.86 L251.04,155.85 L251.54,155.84 L252.05,155.83 L252.56,155.82 L253.07,155.81 L253.58,155.80 L254.09,155.79 L254.60,155.78 L255.11,155.77 L255.62,155.76 L256.13,155.75 L256.63,155.74 L257.14,155.73 L257.65,155.72 L258.16,155.71 L258.67,155.70 L259.18,155.69 L259.69,155.68 L260.20,155.67 L260.71,155.66 L261.22,155.65 L261.72,155.64 L262.23,155.63 L262.74,155.62 L263.25,155.61 L263.76,155.60 L264.27,155.60 L264.78,155.59 L265.29,155.58 L265.80,155.57 L266.31,155.56 L266.81,155.55 L267.32,155.54 L267.83,155.53 L268.34,155.53 L268.85,155.52 L269.36,155.51 L269.87,155.50 L270.38,155.49 L270.89,155.48 L271.40,155.47 L271.90,155.47 L272.41,155.46 L272.92,155.45 L273.43,155.44 L273.94,155.43 L274.45,155.42 L274.96,155.42 L275.47,155.41 L275.98,155.40 L276.49,155.39 L276.99,155.38 L277.50,155.38 L278.01,155.37 L278.52,155.36 L279.03,155.35 L279.54,155.34 L280.05,155.34 L280.56,155.33 L281.07,155.32 L281.58,155.31 L282.09,155.31 L282.59,155.30 L283.10,155.29 L283.61,155.28 L284.12,155.28 L284.63,155.27 L285.14,155.26 L285.65,155.25 L286.16,155.25 L286.67,155.24 L287.18,155.23 L287.68,155.22 L288.19,155.22 L288.70,155.21 L289.21,155.20 L289.72,155.20 L290.23,155.19 L290.74,155.18 L291.25,155.18 L291.76,155.17 L292.27,155.16 L292.77,155.15 L293.28,155.15 L293.79,155.14 L294.30,155.13 L294.81,155.13 L295.32,155.12 L295.83,155.11 L296.34,155.11 L296.85,155.10 L297.36,155.09 L297.86,155.09 L298.37,155.08 L298.88,155.08 L299.39,155.07 L299.90,155.06 L300.41,155.06 L300.92,155.05 L301.43,155.04 L301.94,155.04 L302.45,155.03 L302.95,155.02 L303.46,155.02 L303.97,155.01 L304.48,155.01 L304.99,155.00 L305.50,154.99" stroke="#ff00ff"/>
</g>
<g clip-path="url(#c3)" fill="none" stroke-width="1.4" stroke-linejoin="round">
<path d="M51.50,373.10 L52.01,373.20 L52.52,373.26 L53.03,373.29 L53.54,373.30 L54.05,373.29 L54.55,373.06 L55.06,372.63 L55.57,372.08 L56.08,371.51 L56.59,370.81 L57.10,369.94 L57.61,368.96 L58.12,367.91 L58.63,366.85 L59.14,365.73 L59.64,364.52 L60.15,363.23 L60.66,361.89 L61.17,360.51 L61.68,359.11 L62.19,357.72 L62.70,356.35 L63.21,355.03 L63.72,353.77 L64.23,352.59 L64.73,351.48 L65.24,350.43 L65.75,349.41 L66.26,348.40 L66.77,347.37 L67.28,346.31 L67.79,345.20 L68.30,344.01 L68.81,342.67 L69.32,341.26 L69.82,339.82 L70.33,338.33 L70.84,336.81 L71.35,335.29 L71.86,333.79 L72.37,332.34 L72.88,330.97 L73.39,329.71 L73.90,328.57 L74.41,327.51 L74.91,326.51 L75.42,325.56 L75.93,324.65 L76.44,323.79 L76.95,322.96 L77.46,322.16 L77.97,321.37 L78.48,320.59 L78.99,319.82 L79.50,319.06 L80.01,318.30 L80.51,317.54 L81.02,316.79 L81.53,316.05 L82.04,315.31 L82.55,314.58 L83.06,313.86 L83.57,313.16 L84.08,312.46 L84.59,311.78 L85.10,311.10 L85.60,310.44 L86.11,309.78 L86.62,309.14 L87.13,308.50 L87.64,307.88 L88.15,307.26 L88.66,306.65 L89.17,306.06 L89.68,305.47 L90.19,304.89 L90.69,304.31 L91.20,303.75 L91.71,303.19 L92.22,302.65 L92.73,302.11 L93.24,301.58 L93.75,301.05 L94.26,300.54 L94.77,300.03 L95.28,299.53 L95.78,299.03 L96.29,298.55 L96.80,298.07 L97.31,297.60 L97.82,297.13 L98.33,296.67 L98.84,296.22 L99.35,295.78 L99.86,295.34 L100.37,294.91 L100.87,294.48 L101.38,294.06 L101.89,293.65 L102.40,293.24 L102.91,292.84 L103.42,292.44 L103.93,292.05 L104.44,291.66 L104.95,291.28 L105.46,290.91 L105.96,290.54 L106.47,290.18 L106.98,289.82 L107.49,289.47 L108.00,289.12 L108.51,288.78 L109.02,288.44 L109.53,288.11 L110.04,287.78 L110.55,287.45 L111.06,287.13 L111.56,286.82 L112.07,286.51 L112.58,286.20 L113.09,285.90 L113.60,285.60 L114.11,285.31 L114.62,285.02 L115.13,284.74 L115.64,284.45 L116.15,284.18 L116.65,283.90 L117.16,283.63 L117.67,283.37 L118.18,283.11 L118.69,282.85 L119.20,282.59 L119.71,282.34 L120.22,282.09 L120.73,281.85 L121.24,281.61 L121.74,281.37 L122.25,281.13 L122.76,280.90 L123.27,280.67 L123.78,280.45 L124.29,280.23 L124.80,280.01 L125.31,279.79 L125.82,279.58 L126.33,279.37 L126.83,279.16 L127.34,278.95 L127.85,278.75 L128.36,278.55 L128.87,278.35 L129.38,278.16 L129.89,277.97 L130.40,277.78 L130.91,277.59 L131.42,277.41 L131.92,277.22 L132.43,277.04 L132.94,276.87 L133.45,276.69 L133.96,276.52 L134.47,276.35 L134.98,276.18 L135.49,276.01 L136.00,275.85 L136.51,275.69 L137.02,275.53 L137.52,275.37 L138.03,275.21 L138.54,275.06 L139.05,274.91 L139.56,274.76 L140.07,274.61 L140.58,274.46 L141.09,274.32 L141.60,274.18 L142.11,274.03 L142.61,273.89 L143.12,273.76 L143.63,273.62 L144.14,273.49 L144.65,273.35 L145.16,273.22 L145.67,273.09 L146.18,272.97 L146.69,272.84 L147.20,272.71 L147.70,272.59 L148.21,272.47 L148.72,272.35 L149.23,272.23 L149.74,272.11 L150.25,271.99 L150.76,271.88 L151.27,271.76 L151.78,271.65 L152.29,271.54 L152.79,271.43 L153.30,271.32 L153.81,271.21 L154.32,271.11 L154.83,271.00 L155.34,270.90 L155.85,270.80 L156.36,270.70 L156.87,270.59 L157.38,270.50 L157.88,270.40 L158.39,270.30 L158.90,270.20 L159.41,270.11 L159.92,270.01 L160.43,269.92 L160.94,269.83 L161.45,269.74 L161.96,269.65 L162.47,269.56 L162.97,269.47 L163.48,269.38 L163.99,269.29 L164.50,269.21 L165.01,269.12 L165.52,269.04 L166.03,268.96 L166.54,268.87 L167.05,268.79 L167.56,268.71 L168.07,268.63 L168.57,268.55 L169.08,268.47 L169.59,268.40 L170.10,268.32 L170.61,268.24 L171.12,268.17 L171.63,268.09 L172.14,268.02 L172.65,267.95 L173.16,267.87 L173.66,267.80 L174.17,267.73 L174.68,267.66 L175.19,267.59 L175.70,267.52 L176.21,267.45 L176.72,267.38 L177.23,267.31 L177.74,267.25 L178.25,267.18 L178.75,267.11 L179.26,267.05 L179.77,266.98 L180.28,266.92 L180.79,266.86 L181.30,266.79 L181.81,266.73 L182.32,266.67 L182.83,266.61 L183.34,266.54 L183.84,266.48 L184.35,266.42 L184.86,266.36 L185.37,266.30 L185.88,266.24 L186.39,266.19 L186.90,266.13 L187.41,266.07 L187.92,266.01 L188.43,265.96 L188.93,265.90 L189.44,265.84 L189.95,265.79 L190.46,265.73 L190.97,265.68 L191.48,265.62 L191.99,265.57 L192.50,265.52 L193.01,265.46 L193.52,265.41 L194.03,265.36 L194.53,265.31 L195.04,265.25 L195.55,265.20 L196.06,265.15 L196.57,265.10 L197.08,265.05 L197.59,265.00 L198.10,264.95 L198.61,264.90 L199.12,264.85 L199.62,264.80 L200.13,264.75 L200.64,264.71 L201.15,264.66 L201.66,264.61 L202.17,264.56 L202.68,264.52 L203.19,264.47 L203.70,264.42 L204.21,264.38 L204.71,264.33 L205.22,264.28 L205.73,264.24 L206.24,264.19 L206.75,264.15 L207.26,264.10 L207.77,264.06 L208.28,264.01 L208.79,263.97 L209.30,263.92 L209.80,263.88 L210.31,263.84 L210.82,263.79 L211.33,263.75 L211.84,263.71 L212.35,263.66 L212.86,263.62 L213.37,263.58 L213.88,263.54 L214.39,263.50 L214.89,263.45 L215.40,263.41 L215.91,263.37 L216.42,263.33 L216.93,263.29 L217.44,263.25 L217.95,263.21 L218.46,263.17 L218.97,263.13 L219.48,263.09 L219.98,263.05 L220.49,263.01 L221.00,262.97 L221.51,262.93 L222.02,262.89 L222.53,262.85 L223.04,262.81 L223.55,262.77 L224.06,262.73 L224.57,262.69 L225.08,262.65 L225.58,262.61 L226.09,262.58 L226.60,262.54 L227.11,262.50 L227.62,262.46 L228.13,262.42 L228.64,262.39 L229.15,262.35 L229.66,262.31 L230.17,262.27 L230.67,262.24 L231.18,262.20 L231.69,262.16 L232.20,262.13 L232.71,262.09 L233.22,262.05 L233.73,262.02 L234.24,261.98 L234.75,261.94 L235.26,261.91 L235.76,261.87 L236.27,261.83 L236.78,261.80 L237.29,261.76 L237.80,261.73 L238.31,261.69 L238.82,261.66 L239.33,261.62 L239.84,261.58 L240.35,261.55 L240.85,261.51 L241.36,261.48 L241.87,261.44 L242.38,261.41 L242.89,261.37 L243.40,261.34 L243.91,261.30 L244.42,261.27 L244.93,261.24 L245.44,261.20 L245.94,261.17 L246.45,261.13 L246.96,261.10 L247.47,261.06 L247.98,261.03 L248.49,261.00 L249.00,260.96 L249.51,260.93 L250.02,260.89 L250.53,260.86 L251.04,260.83 L251.54,260.79 L252.05,260.76 L252.56,260.72 L253.07,260.69 L253.58,260.66 L254.09,260.62 L254.60,260.59 L255.11,260.56 L255.62,260.52 L256.13,260.49 L256.63,260.46 L257.14,260.43 L257.65,260.39 L258.16,260.36 L258.67,260.33 L259.18,260.29 L259.69,260.26 L260.20,260.23 L260.71,260.20 L261.22,260.16 L261.72,260.13 L262.23,260.10 L262.74,260.06 L263.25,260.03 L263.76,260.00 L264.27,259.97 L264.78,259.94 L265.29,259.90 L265.80,259.87 L266.31,259.84 L266.81,259.81 L267.32,259.77 L267.83,259.74 L268.34,259.71 L268.85,259.68 L269.36,259.65 L269.87,259.61 L270.38,259.58 L270.89,259.55 L271.40,259.52 L271.90,259.49 L272.41,259.45 L272.92,259.42 L273.43,259.39 L273.94,259.36 L274.45,259.33 L274.96,259.30 L275.47,259.26 L275.98,259.23 L276.49,259.20 L276.99,259.17 L277.50,259.14 L278.01,259.11 L278.52,259.08 L279.03,259.04 L279.54,259.01 L280.05,258.98 L280.56,258.95 L281.07,258.92 L281.58,258.89 L282.09,258.86 L282.59,258.83 L283.10,258.79 L283.61,258.76 L284.12,258.73 L284.63,258.70 L285.14,258.67 L285.65,258.64 L286.16,258.61 L286.67,258.58 L287.18,258.55 L287.68,258.51 L288.19,258.48 L288.70,258.45 L289.21,258.42 L289.72,258.39 L290.23,258.36 L290.74,258.33 L291.25,258.30 L291.76,258.27 L292.27,258.24 L292.77,258.21 L293.28,258.18 L293.79,258.15 L294.30,258.11 L294.81,258.08 L295.32,258.05 L295.83,258.02 L296.34,257.99 L296.85,257.96 L297.36,257.93 L297.86,257.90 L298.37,257.87 L298.88,257.84 L299.39,257.81 L299.90,257.78 L300.41,257.75 L300.92,257.72 L301.43,257.69 L301.94,257.66 L302.45,257.63 L302.95,257.60 L303.46,257.57 L303.97,257.53 L304.48,257.50 L304.99,257.47 L305.50,257.44" stroke="#000000"/>
<path d="M51.50,372.20 L52.01,371.37 L52.52,370.52 L53.03,369.66 L53.54,368.79 L54.05,367.89 L54.55,366.98 L55.06,366.05 L55.57,365.09 L56.08,364.11 L56.59,363.11 L57.10,362.10 L57.61,361.08 L58.12,360.05 L58.63,359.01 L59.14,357.98 L59.64,356.95 L60.15,355.93 L60.66,354.92 L61.17,353.92 L61.68,352.95 L62.19,351.99 L62.70,351.05 L63.21,350.13 L63.72,349.21 L64.23,348.30 L64.73,347.39 L65.24,346.48 L65.75,345.56 L66.26,344.63 L66.77,343.68 L67.28,342.72 L67.79,341.72 L68.30,340.70 L68.81,339.63 L69.32,338.51 L69.82,337.37 L70.33,336.23 L70.84,335.12 L71.35,334.03 L71.86,332.94 L72.37,331.86 L72.88,330.80 L73.39,329.79 L73.90,328.84 L74.41,327.90 L74.91,326.96 L75.42,326.03 L75.93,325.12 L76.44,324.24 L76.95,323.41 L77.46,322.62 L77.97,321.87 L78.48,321.17 L78.99,320.50 L79.50,319.87 L80.01,319.25 L80.51,318.66 L81.02,318.07 L81.53,317.49 L82.04,316.92 L82.55,316.36 L83.06,315.81 L83.57,315.27 L84.08,314.74 L84.59,314.21 L85.10,313.70 L85.60,313.19 L86.11,312.69 L86.62,312.20 L87.13,311.71 L87.64,311.24 L88.15,310.77 L88.66,310.31 L89.17,309.85 L89.68,309.41 L90.19,308.97 L90.69,308.53 L91.20,308.11 L91.71,307.69 L92.22,307.28 L92.73,306.87 L93.24,306.47 L93.75,306.08 L94.26,305.69 L94.77,305.31 L95.28,304.93 L95.78,304.56 L96.29,304.20 L96.80,303.84 L97.31,303.48 L97.82,303.14 L98.33,302.79 L98.84,302.46 L99.35,302.12 L99.86,301.80 L100.37,301.47 L100.87,301.16 L101.38,300.84 L101.89,300.54 L102.40,300.23 L102.91,299.94 L103.42,299.64 L103.93,299.35 L104.44,299.07 L104.95,298.79 L105.46,298.51 L105.96,298.24 L106.47,297.97 L106.98,297.70 L107.49,297.44 L108.00,297.19 L108.51,296.93 L109.02,296.68 L109.53,296.44 L110.04,296.20 L110.55,295.96 L111.06,295.72 L111.56,295.49 L112.07,295.26 L112.58,295.04 L113.09,294.82 L113.60,294.60 L114.11,294.38 L114.62,294.17 L115.13,293.96 L115.64,293.75 L116.15,293.55 L116.65,293.35 L117.16,293.15 L117.67,292.96 L118.18,292.76 L118.69,292.57 L119.20,292.39 L119.71,292.20 L120.22,292.02 L120.73,291.84 L121.24,291.67 L121.74,291.49 L122.25,291.32 L122.76,291.15 L123.27,290.98 L123.78,290.82 L124.29,290.65 L124.80,290.49 L125.31,290.34 L125.82,290.18 L126.33,290.02 L126.83,289.87 L127.34,289.72 L127.85,289.57 L128.36,289.43 L128.87,289.28 L129.38,289.14 L129.89,289.00 L130.40,288.86 L130.91,288.72 L131.42,288.59 L131.92,288.46 L132.43,288.32 L132.94,288.19 L133.45,288.06 L133.96,287.94 L134.47,287.81 L134.98,287.69 L135.49,287.57 L136.00,287.45 L136.51,287.33 L137.02,287.21 L137.52,287.09 L138.03,286.98 L138.54,286.86 L139.05,286.75 L139.56,286.64 L140.07,286.53 L140.58,286.42 L141.09,286.31 L141.60,286.21 L142.11,286.10 L142.61,286.00 L143.12,285.90 L143.63,285.80 L144.14,285.70 L144.65,285.60 L145.16,285.50 L145.67,285.40 L146.18,285.31 L146.69,285.21 L147.20,285.12 L147.70,285.03 L148.21,284.94 L148.72,284.85 L149.23,284.76 L149.74,284.67 L150.25,284.58 L150.76,284.49 L151.27,284.41 L151.78,284.32 L152.29,284.24 L152.79,284.16 L153.30,284.07 L153.81,283.99 L154.32,283.91 L154.83,283.83 L155.34,283.75 L155.85,283.67 L156.36,283.60 L156.87,283.52 L157.38,283.44 L157.88,283.37 L158.39,283.29 L158.90,283.22 L159.41,283.14 L159.92,283.07 L160.43,283.00 L160.94,282.93 L161.45,282.86 L161.96,282.79 L162.47,282.72 L162.97,282.65 L163.48,282.58 L163.99,282.51 L164.50,282.45 L165.01,282.38 L165.52,282.31 L166.03,282.25 L166.54,282.18 L167.05,282.12 L167.56,282.06 L168.07,281.99 L168.57,281.93 L169.08,281.87 L169.59,281.81 L170.10,281.74 L170.61,281.68 L171.12,281.62 L171.63,281.56 L172.14,281.50 L172.65,281.44 L173.16,281.39 L173.66,281.33 L174.17,281.27 L174.68,281.21 L175.19,281.16 L175.70,281.10 L176.21,281.04 L176.72,280.99 L177.23,280.93 L177.74,280.88 L178.25,280.82 L178.75,280.77 L179.26,280.71 L179.77,280.66 L180.28,280.61 L180.79,280.55 L181.30,280.50 L181.81,280.45 L182.32,280.40 L182.83,280.34 L183.34,280.29 L183.84,280.24 L184.35,280.19 L184.86,280.14 L185.37,280.09 L185.88,280.04 L186.39,279.99 L186.90,279.94 L187.41,279.89 L187.92,279.84 L188.43,279.80 L188.93,279.75 L189.44,279.70 L189.95,279.65 L190.46,279.60 L190.97,279.56 L191.48,279.51 L191.99,279.46 L192.50,279.42 L193.01,279.37 L193.52,279.32 L194.03,279.28 L194.53,279.23 L195.04,279.19 L195.55,279.14 L196.06,279.10 L196.57,279.05 L197.08,279.01 L197.59,278.96 L198.10,278.92 L198.61,278.87 L199.12,278.83 L199.62,278.79 L200.13,278.74 L200.64,278.70 L201.15,278.66 L201.66,278.61 L202.17,278.57 L202.68,278.53 L203.19,278.48 L203.70,278.44 L204.21,278.40 L204.71,278.36 L205.22,278.32 L205.73,278.27 L206.24,278.23 L206.75,278.19 L207.26,278.15 L207.77,278.11 L208.28,278.07 L208.79,278.03 L209.30,277.98 L209.80,277.94 L210.31,277.90 L210.82,277.86 L211.33,277.82 L211.84,277.78 L212.35,277.74 L212.86,277.70 L213.37,277.66 L213.88,277.62 L214.39,277.58 L214.89,277.54 L215.40,277.50 L215.91,277.46 L216.42,277.42 L216.93,277.39 L217.44,277.35 L217.95,277.31 L218.46,277.27 L218.97,277.23 L219.48,277.19 L219.98,277.15 L220.49,277.11 L221.00,277.08 L221.51,277.04 L222.02,277.00 L222.53,276.96 L223.04,276.92 L223.55,276.88 L224.06,276.85 L224.57,276.81 L225.08,276.77 L225.58,276.73 L226.09,276.70 L226.60,276.66 L227.11,276.62 L227.62,276.58 L228.13,276.55 L228.64,276.51 L229.15,276.47 L229.66,276.43 L230.17,276.40 L230.67,276.36 L231.18,276.32 L231.69,276.29 L232.20,276.25 L232.71,276.21 L233.22,276.18 L233.73,276.14 L234.24,276.10 L234.75,276.07 L235.26,276.03 L235.76,275.99 L236.27,275.96 L236.78,275.92 L237.29,275.89 L237.80,275.85 L238.31,275.81 L238.82,275.78 L239.33,275.74 L239.84,275.70 L240.35,275.67 L240.85,275.63 L241.36,275.60 L241.87,275.56 L242.38,275.53 L242.89,275.49 L243.40,275.45 L243.91,275.42 L244.42,275.38 L244.93,275.35 L245.44,275.31 L245.94,275.28 L246.45,275.24 L246.96,275.21 L247.47,275.17 L247.98,275.14 L248.49,275.10 L249.00,275.07 L249.51,275.03 L250.02,274.99 L250.53,274.96 L251.04,274.92 L251.54,274.89 L252.05,274.85 L252.56,274.82 L253.07,274.78 L253.58,274.75 L254.09,274.72 L254.60,274.68 L255.11,274.65 L255.62,274.61 L256.13,274.58 L256.63,274.54 L257.14,274.51 L257.65,274.47 L258.16,274.44 L258.67,274.40 L259.18,274.37 L259.69,274.33 L260.20,274.30 L260.71,274.26 L261.22,274.23 L261.72,274.20 L262.23,274.16 L262.74,274.13 L263.25,274.09 L263.76,274.06 L264.27,274.02 L264.78,273.99 L265.29,273.96 L265.80,273.92 L266.31,273.89 L266.81,273.85 L267.32,273.82 L267.83,273.78 L268.34,273.75 L268.85,273.72 L269.36,273.68 L269.87,273.65 L270.38,273.61 L270.89,273.58 L271.40,273.55 L271.90,273.51 L272.41,273.48 L272.92,273.44 L273.43,273.41 L273.94,273.38 L274.45,273.34 L274.96,273.31 L275.47,273.27 L275.98,273.24 L276.49,273.21 L276.99,273.17 L277.50,273.14 L278.01,273.11 L278.52,273.07 L279.03,273.04 L279.54,273.00 L280.05,272.97 L280.56,272.94 L281.07,272.90 L281.58,272.87 L282.09,272.84 L282.59,272.80 L283.10,272.77 L283.61,272.73 L284.12,272.70 L284.63,272.67 L285.14,272.63 L285.65,272.60 L286.16,272.57 L286.67,272.53 L287.18,272.50 L287.68,272.47 L288.19,272.43 L288.70,272.40 L289.21,272.37 L289.72,272.33 L290.23,272.30 L290.74,272.26 L291.25,272.23 L291.76,272.20 L292.27,272.16 L292.77,272.13 L293.28,272.10 L293.79,272.06 L294.30,272.03 L294.81,272.00 L295.32,271.96 L295.83,271.93 L296.34,271.90 L296.85,271.86 L297.36,271.83 L297.86,271.80 L298.37,271.76 L298.88,271.73 L299.39,271.70 L299.90,271.66 L300.41,271.63 L300.92,271.60 L301.43,271.56 L301.94,271.53 L302.45,271.50 L302.95,271.46 L303.46,271.43 L303.97,271.40 L304.48,271.37 L304.99,271.33 L305.50,271.30" stroke="#ff0000"/>
<path d="M51.50,369.80 L52.01,368.95 L52.52,368.10 L53.03,367.21 L53.54,366.29 L54.05,365.33 L54.55,364.36 L55.06,363.36 L55.57,362.34 L56.08,361.31 L56.59,360.28 L57.10,359.24 L57.61,358.20 L58.12,357.17 L58.63,356.15 L59.14,355.14 L59.64,354.15 L60.15,353.19 L60.66,352.25 L61.17,351.33 L61.68,350.42 L62.19,349.53 L62.70,348.65 L63.21,347.77 L63.72,346.90 L64.23,346.02 L64.73,345.14 L65.24,344.25 L65.75,343.36 L66.26,342.44 L66.77,341.51 L67.28,340.56 L67.79,339.56 L68.30,338.52 L68.81,337.48 L69.32,336.46 L69.82,335.49 L70.33,334.60 L70.84,333.75 L71.35,332.93 L71.86,332.15 L72.37,331.38 L72.88,330.62 L73.39,329.86 L73.90,329.11 L74.41,328.33 L74.91,327.54 L75.42,326.74 L75.93,325.94 L76.44,325.17 L76.95,324.43 L77.46,323.72 L77.97,323.06 L78.48,322.44 L78.99,321.85 L79.50,321.30 L80.01,320.76 L80.51,320.23 L81.02,319.72 L81.53,319.21 L82.04,318.72 L82.55,318.23 L83.06,317.75 L83.57,317.28 L84.08,316.82 L84.59,316.37 L85.10,315.92 L85.60,315.49 L86.11,315.06 L86.62,314.64 L87.13,314.22 L87.64,313.82 L88.15,313.42 L88.66,313.02 L89.17,312.64 L89.68,312.26 L90.19,311.89 L90.69,311.52 L91.20,311.16 L91.71,310.81 L92.22,310.46 L92.73,310.12 L93.24,309.78 L93.75,309.45 L94.26,309.13 L94.77,308.81 L95.28,308.49 L95.78,308.18 L96.29,307.88 L96.80,307.58 L97.31,307.29 L97.82,307.00 L98.33,306.72 L98.84,306.44 L99.35,306.16 L99.86,305.89 L100.37,305.63 L100.87,305.36 L101.38,305.11 L101.89,304.85 L102.40,304.61 L102.91,304.36 L103.42,304.12 L103.93,303.88 L104.44,303.65 L104.95,303.42 L105.46,303.19 L105.96,302.97 L106.47,302.75 L106.98,302.54 L107.49,302.33 L108.00,302.12 L108.51,301.91 L109.02,301.71 L109.53,301.51 L110.04,301.31 L110.55,301.12 L111.06,300.93 L111.56,300.74 L112.07,300.56 L112.58,300.38 L113.09,300.20 L113.60,300.02 L114.11,299.85 L114.62,299.67 L115.13,299.51 L115.64,299.34 L116.15,299.17 L116.65,299.01 L117.16,298.85 L117.67,298.70 L118.18,298.54 L118.69,298.39 L119.20,298.24 L119.71,298.09 L120.22,297.94 L120.73,297.80 L121.24,297.66 L121.74,297.52 L122.25,297.38 L122.76,297.24 L123.27,297.11 L123.78,296.97 L124.29,296.84 L124.80,296.71 L125.31,296.59 L125.82,296.46 L126.33,296.34 L126.83,296.21 L127.34,296.09 L127.85,295.97 L128.36,295.85 L128.87,295.74 L129.38,295.62 L129.89,295.51 L130.40,295.40 L130.91,295.28 L131.42,295.18 L131.92,295.07 L132.43,294.96 L132.94,294.85 L133.45,294.75 L133.96,294.65 L134.47,294.54 L134.98,294.44 L135.49,294.34 L136.00,294.24 L136.51,294.15 L137.02,294.05 L137.52,293.96 L138.03,293.86 L138.54,293.77 L139.05,293.68 L139.56,293.58 L140.07,293.49 L140.58,293.40 L141.09,293.32 L141.60,293.23 L142.11,293.14 L142.61,293.06 L143.12,292.97 L143.63,292.89 L144.14,292.80 L144.65,292.72 L145.16,292.64 L145.67,292.56 L146.18,292.48 L146.69,292.40 L147.20,292.32 L147.70,292.25 L148.21,292.17 L148.72,292.09 L149.23,292.02 L149.74,291.94 L150.25,291.87 L150.76,291.79 L151.27,291.72 L151.78,291.65 L152.29,291.58 L152.79,291.51 L153.30,291.44 L153.81,291.37 L154.32,291.30 L154.83,291.23 L155.34,291.16 L155.85,291.09 L156.36,291.02 L156.87,290.96 L157.38,290.89 L157.88,290.83 L158.39,290.76 L158.90,290.70 L159.41,290.63 L159.92,290.57 L160.43,290.51 L160.94,290.44 L161.45,290.38 L161.96,290.32 L162.47,290.26 L162.97,290.20 L163.48,290.14 L163.99,290.08 L164.50,290.02 L165.01,289.96 L165.52,289.90 L166.03,289.84 L166.54,289.78 L167.05,289.72 L167.56,289.67 L168.07,289.61 L168.57,289.55 L169.08,289.50 L169.59,289.44 L170.10,289.38 L170.61,289.33 L171.12,289.27 L171.63,289.22 L172.14,289.16 L172.65,289.11 L173.16,289.06 L173.66,289.00 L174.17,288.95 L174.68,288.90 L175.19,288.84 L175.70,288.79 L176.21,288.74 L176.72,288.69 L177.23,288.64 L177.74,288.58 L178.25,288.53 L178.75,288.48 L179.26,288.43 L179.77,288.38 L180.28,288.33 L180.79,288.28 L181.30,288.23 L181.81,288.18 L182.32,288.13 L182.83,288.08 L183.34,288.03 L183.84,287.98 L184.35,287.94 L184.86,287.89 L185.37,287.84 L185.88,287.79 L186.39,287.74 L186.90,287.70 L187.41,287.65 L187.92,287.60 L188.43,287.56 L188.93,287.51 L189.44,287.46 L189.95,287.42 L190.46,287.37 L190.97,287.32 L191.48,287.28 L191.99,287.23 L192.50,287.19 L193.01,287.14 L193.52,287.09 L194.03,287.05 L194.53,287.00 L195.04,286.96 L195.55,286.91 L196.06,286.87 L196.57,286.83 L197.08,286.78 L197.59,286.74 L198.10,286.69 L198.61,286.65 L199.12,286.60 L199.62,286.56 L200.13,286.52 L200.64,286.47 L201.15,286.43 L201.66,286.39 L202.17,286.34 L202.68,286.30 L203.19,286.26 L203.70,286.22 L204.21,286.17 L204.71,286.13 L205.22,286.09 L205.73,286.05 L206.24,286.00 L206.75,285.96 L207.26,285.92 L207.77,285.88 L208.28,285.84 L208.79,285.79 L209.30,285.75 L209.80,285.71 L210.31,285.67 L210.82,285.63 L211.33,285.59 L211.84,285.55 L212.35,285.51 L212.86,285.46 L213.37,285.42 L213.88,285.38 L214.39,285.34 L214.89,285.30 L215.40,285.26 L215.91,285.22 L216.42,285.18 L216.93,285.14 L217.44,285.10 L217.95,285.06 L218.46,285.02 L218.97,284.98 L219.48,284.94 L219.98,284.90 L220.49,284.86 L221.00,284.82 L221.51,284.78 L222.02,284.74 L222.53,284.70 L223.04,284.66 L223.55,284.62 L224.06,284.58 L224.57,284.55 L225.08,284.51 L225.58,284.47 L226.09,284.43 L226.60,284.39 L227.11,284.35 L227.62,284.31 L228.13,284.27 L228.64,284.24 L229.15,284.20 L229.66,284.16 L230.17,284.12 L230.67,284.08 L231.18,284.04 L231.69,284.00 L232.20,283.97 L232.71,283.93 L233.22,283.89 L233.73,283.85 L234.24,283.81 L234.75,283.78 L235.26,283.74 L235.76,283.70 L236.27,283.66 L236.78,283.63 L237.29,283.59 L237.80,283.55 L238.31,283.51 L238.82,283.48 L239.33,283.44 L239.84,283.40 L240.35,283.36 L240.85,283.33 L241.36,283.29 L241.87,283.25 L242.38,283.21 L242.89,283.18 L243.40,283.14 L243.91,283.10 L244.42,283.07 L244.93,283.03 L245.44,282.99 L245.94,282.96 L246.45,282.92 L246.96,282.88 L247.47,282.85 L247.98,282.81 L248.49,282.77 L249.00,282.74 L249.51,282.70 L250.02,282.66 L250.53,282.63 L251.04,282.59 L251.54,282.56 L252.05,282.52 L252.56,282.48 L253.07,282.45 L253.58,282.41 L254.09,282.37 L254.60,282.34 L255.11,282.30 L255.62,282.27 L256.13,282.23 L256.63,282.20 L257.14,282.16 L257.65,282.12 L258.16,282.09 L258.67,282.05 L259.18,282.02 L259.69,281.98 L260.20,281.95 L260.71,281.91 L261.22,281.87 L261.72,281.84 L262.23,281.80 L262.74,281.77 L263.25,281.73 L263.76,281.70 L264.27,281.66 L264.78,281.63 L265.29,281.59 L265.80,281.56 L266.31,281.52 L266.81,281.49 L267.32,281.45 L267.83,281.42 L268.34,281.38 L268.85,281.35 L269.36,281.31 L269.87,281.28 L270.38,281.24 L270.89,281.21 L271.40,281.17 L271.90,281.14 L272.41,281.10 L272.92,281.07 L273.43,281.04 L273.94,281.00 L274.45,280.97 L274.96,280.93 L275.47,280.90 L275.98,280.86 L276.49,280.83 L276.99,280.79 L277.50,280.76 L278.01,280.73 L278.52,280.69 L279.03,280.66 L279.54,280.62 L280.05,280.59 L280.56,280.56 L281.07,280.52 L281.58,280.49 L282.09,280.45 L282.59,280.42 L283.10,280.39 L283.61,280.35 L284.12,280.32 L284.63,280.28 L285.14,280.25 L285.65,280.22 L286.16,280.18 L286.67,280.15 L287.18,280.12 L287.68,280.08 L288.19,280.05 L288.70,280.02 L289.21,279.98 L289.72,279.95 L290.23,279.91 L290.74,279.88 L291.25,279.85 L291.76,279.81 L292.27,279.78 L292.77,279.75 L293.28,279.71 L293.79,279.68 L294.30,279.65 L294.81,279.62 L295.32,279.58 L295.83,279.55 L296.34,279.52 L296.85,279.48 L297.36,279.45 L297.86,279.42 L298.37,279.38 L298.88,279.35 L299.39,279.32 L299.90,279.29 L300.41,279.25 L300.92,279.22 L301.43,279.19 L301.94,279.15 L302.45,279.12 L302.95,279.09 L303.46,279.06 L303.97,279.02 L304.48,278.99 L304.99,278.96 L305.50,278.93" stroke="#0000ff"/>
<path d="M51.50,366.60 L52.01,365.70 L52.52,364.80 L53.03,363.90 L53.54,363.00 L54.05,362.11 L54.55,361.21 L55.06,360.32 L55.57,359.43 L56.08,358.53 L56.59,357.64 L57.10,356.76 L57.61,355.87 L58.12,354.98 L58.63,354.10 L59.14,353.21 L59.64,352.33 L60.15,351.45 L60.66,350.58 L61.17,349.71 L61.68,348.84 L62.19,347.97 L62.70,347.11 L63.21,346.24 L63.72,345.37 L64.23,344.50 L64.73,343.62 L65.24,342.74 L65.75,341.86 L66.26,340.97 L66.77,340.05 L67.28,339.11 L67.79,338.16 L68.30,337.21 L68.81,336.30 L69.32,335.45 L69.82,334.66 L70.33,333.93 L70.84,333.24 L71.35,332.58 L71.86,331.93 L72.37,331.29 L72.88,330.66 L73.39,330.01 L73.90,329.34 L74.41,328.63 L74.91,327.90 L75.42,327.14 L75.93,326.37 L76.44,325.63 L76.95,324.91 L77.46,324.24 L77.97,323.62 L78.48,323.04 L78.99,322.51 L79.50,322.01 L80.01,321.54 L80.51,321.08 L81.02,320.63 L81.53,320.20 L82.04,319.77 L82.55,319.36 L83.06,318.95 L83.57,318.55 L84.08,318.16 L84.59,317.78 L85.10,317.40 L85.60,317.03 L86.11,316.67 L86.62,316.32 L87.13,315.97 L87.64,315.63 L88.15,315.29 L88.66,314.96 L89.17,314.64 L89.68,314.32 L90.19,314.01 L90.69,313.71 L91.20,313.41 L91.71,313.11 L92.22,312.82 L92.73,312.53 L93.24,312.25 L93.75,311.98 L94.26,311.71 L94.77,311.44 L95.28,311.18 L95.78,310.93 L96.29,310.67 L96.80,310.42 L97.31,310.18 L97.82,309.94 L98.33,309.70 L98.84,309.47 L99.35,309.24 L99.86,309.02 L100.37,308.80 L100.87,308.58 L101.38,308.37 L101.89,308.15 L102.40,307.95 L102.91,307.74 L103.42,307.54 L103.93,307.34 L104.44,307.15 L104.95,306.96 L105.46,306.77 L105.96,306.58 L106.47,306.40 L106.98,306.22 L107.49,306.04 L108.00,305.87 L108.51,305.69 L109.02,305.52 L109.53,305.36 L110.04,305.19 L110.55,305.03 L111.06,304.87 L111.56,304.71 L112.07,304.55 L112.58,304.40 L113.09,304.25 L113.60,304.10 L114.11,303.95 L114.62,303.81 L115.13,303.66 L115.64,303.52 L116.15,303.38 L116.65,303.24 L117.16,303.11 L117.67,302.97 L118.18,302.84 L118.69,302.71 L119.20,302.58 L119.71,302.45 L120.22,302.32 L120.73,302.20 L121.24,302.08 L121.74,301.95 L122.25,301.83 L122.76,301.71 L123.27,301.60 L123.78,301.48 L124.29,301.37 L124.80,301.25 L125.31,301.14 L125.82,301.03 L126.33,300.92 L126.83,300.81 L127.34,300.70 L127.85,300.60 L128.36,300.49 L128.87,300.39 L129.38,300.29 L129.89,300.19 L130.40,300.08 L130.91,299.98 L131.42,299.89 L131.92,299.79 L132.43,299.69 L132.94,299.60 L133.45,299.50 L133.96,299.41 L134.47,299.31 L134.98,299.22 L135.49,299.13 L136.00,299.04 L136.51,298.95 L137.02,298.86 L137.52,298.78 L138.03,298.69 L138.54,298.60 L139.05,298.52 L139.56,298.43 L140.07,298.35 L140.58,298.26 L141.09,298.18 L141.60,298.10 L142.11,298.02 L142.61,297.94 L143.12,297.86 L143.63,297.78 L144.14,297.70 L144.65,297.62 L145.16,297.54 L145.67,297.47 L146.18,297.39 L146.69,297.31 L147.20,297.24 L147.70,297.16 L148.21,297.09 L148.72,297.02 L149.23,296.94 L149.74,296.87 L150.25,296.80 L150.76,296.73 L151.27,296.66 L151.78,296.59 L152.29,296.52 L152.79,296.45 L153.30,296.38 L153.81,296.31 L154.32,296.24 L154.83,296.17 L155.34,296.11 L155.85,296.04 L156.36,295.97 L156.87,295.91 L157.38,295.84 L157.88,295.77 L158.39,295.71 L158.90,295.65 L159.41,295.58 L159.92,295.52 L160.43,295.45 L160.94,295.39 L161.45,295.33 L161.96,295.27 L162.47,295.20 L162.97,295.14 L163.48,295.08 L163.99,295.02 L164.50,294.96 L165.01,294.90 L165.52,294.84 L166.03,294.78 L166.54,294.72 L167.05,294.66 L167.56,294.60 L168.07,294.54 L168.57,294.48 L169.08,294.43 L169.59,294.37 L170.10,294.31 L170.61,294.25 L171.12,294.20 L171.63,294.14 L172.14,294.08 L172.65,294.03 L173.16,293.97 L173.66,293.92 L174.17,293.86 L174.68,293.81 L175.19,293.75 L175.70,293.70 L176.21,293.64 L176.72,293.59 L177.23,293.54 L177.74,293.48 L178.25,293.43 L178.75,293.37 L179.26,293.32 L179.77,293.27 L180.28,293.22 L180.79,293.16 L181.30,293.11 L181.81,293.06 L182.32,293.01 L182.83,292.96 L183.34,292.91 L183.84,292.85 L184.35,292.80 L184.86,292.75 L185.37,292.70 L185.88,292.65 L186.39,292.60 L186.90,292.55 L187.41,292.50 L187.92,292.45 L188.43,292.40 L188.93,292.35 L189.44,292.31 L189.95,292.26 L190.46,292.21 L190.97,292.16 L191.48,292.11 L191.99,292.06 L192.50,292.02 L193.01,291.97 L193.52,291.92 L194.03,291.87 L194.53,291.83 L195.04,291.78 L195.55,291.73 L196.06,291.68 L196.57,291.64 L197.08,291.59 L197.59,291.54 L198.10,291.50 L198.61,291.45 L199.12,291.41 L199.62,291.36 L200.13,291.32 L200.64,291.27 L201.15,291.22 L201.66,291.18 L202.17,291.13 L202.68,291.09 L203.19,291.05 L203.70,291.00 L204.21,290.96 L204.71,290.91 L205.22,290.87 L205.73,290.82 L206.24,290.78 L206.75,290.74 L207.26,290.69 L207.77,290.65 L208.28,290.61 L208.79,290.56 L209.30,290.52 L209.80,290.48 L210.31,290.43 L210.82,290.39 L211.33,290.35 L211.84,290.31 L212.35,290.26 L212.86,290.22 L213.37,290.18 L213.88,290.14 L214.39,290.10 L214.89,290.05 L215.40,290.01 L215.91,289.97 L216.42,289.93 L216.93,289.89 L217.44,289.85 L217.95,289.81 L218.46,289.77 L218.97,289.72 L219.48,289.68 L219.98,289.64 L220.49,289.60 L221.00,289.56 L221.51,289.52 L222.02,289.48 L222.53,289.44 L223.04,289.40 L223.55,289.36 L224.06,289.32 L224.57,289.28 L225.08,289.25 L225.58,289.21 L226.09,289.17 L226.60,289.13 L227.11,289.09 L227.62,289.05 L228.13,289.01 L228.64,288.97 L229.15,288.93 L229.66,288.90 L230.17,288.86 L230.67,288.82 L231.18,288.78 L231.69,288.74 L232.20,288.71 L232.71,288.67 L233.22,288.63 L233.73,288.59 L234.24,288.55 L234.75,288.52 L235.26,288.48 L235.76,288.44 L236.27,288.41 L236.78,288.37 L237.29,288.33 L237.80,288.30 L238.31,288.26 L238.82,288.22 L239.33,288.19 L239.84,288.15 L240.35,288.11 L240.85,288.08 L241.36,288.04 L241.87,288.00 L242.38,287.97 L242.89,287.93 L243.40,287.90 L243.91,287.86 L244.42,287.83 L244.93,287.79 L245.44,287.76 L245.94,287.72 L246.45,287.69 L246.96,287.65 L247.47,287.62 L247.98,287.58 L248.49,287.55 L249.00,287.51 L249.51,287.48 L250.02,287.44 L250.53,287.41 L251.04,287.37 L251.54,287.34 L252.05,287.30 L252.56,287.27 L253.07,287.24 L253.58,287.20 L254.09,287.17 L254.60,287.14 L255.11,287.10 L255.62,287.07 L256.13,287.03 L256.63,287.00 L257.14,286.97 L257.65,286.93 L258.16,286.90 L258.67,286.87 L259.18,286.84 L259.69,286.80 L260.20,286.77 L260.71,286.74 L261.22,286.70 L261.72,286.67 L262.23,286.64 L262.74,286.61 L263.25,286.58 L263.76,286.54 L264.27,286.51 L264.78,286.48 L265.29,286.45 L265.80,286.42 L266.31,286.38 L266.81,286.35 L267.32,286.32 L267.83,286.29 L268.34,286.26 L268.85,286.23 L269.36,286.19 L269.87,286.16 L270.38,286.13 L270.89,286.10 L271.40,286.07 L271.90,286.04 L272.41,286.01 L272.92,285.98 L273.43,285.95 L273.94,285.92 L274.45,285.89 L274.96,285.86 L275.47,285.83 L275.98,285.80 L276.49,285.77 L276.99,285.74 L277.50,285.71 L278.01,285.68 L278.52,285.65 L279.03,285.62 L279.54,285.59 L280.05,285.56 L280.56,285.53 L281.07,285.50 L281.58,285.47 L282.09,285.44 L282.59,285.41 L283.10,285.38 L283.61,285.35 L284.12,285.32 L284.63,285.29 L285.14,285.26 L285.65,285.24 L286.16,285.21 L286.67,285.18 L287.18,285.15 L287.68,285.12 L288.19,285.09 L288.70,285.06 L289.21,285.04 L289.72,285.01 L290.23,284.98 L290.74,284.95 L291.25,284.92 L291.76,284.89 L292.27,284.87 L292.77,284.84 L293.28,284.81 L293.79,284.78 L294.30,284.76 L294.81,284.73 L295.32,284.70 L295.83,284.67 L296.34,284.65 L296.85,284.62 L297.36,284.59 L297.86,284.56 L298.37,284.54 L298.88,284.51 L299.39,284.48 L299.90,284.46 L300.41,284.43 L300.92,284.40 L301.43,284.38 L301.94,284.35 L302.45,284.32 L302.95,284.30 L303.46,284.27 L303.97,284.24 L304.48,284.22 L304.99,284.19 L305.50,284.17" stroke="#606060"/>
<path d="M51.50,364.20 L52.01,363.28 L52.52,362.37 L53.03,361.47 L53.54,360.57 L54.05,359.67 L54.55,358.79 L55.06,357.90 L55.57,357.03 L56.08,356.16 L56.59,355.30 L57.10,354.44 L57.61,353.59 L58.12,352.74 L58.63,351.90 L59.14,351.07 L59.64,350.25 L60.15,349.43 L60.66,348.62 L61.17,347.82 L61.68,347.01 L62.19,346.21 L62.70,345.41 L63.21,344.62 L63.72,343.82 L64.23,343.03 L64.73,342.25 L65.24,341.47 L65.75,340.65 L66.26,339.79 L66.77,338.88 L67.28,337.97 L67.79,337.07 L68.30,336.21 L68.81,335.42 L69.32,334.71 L69.82,334.06 L70.33,333.45 L70.84,332.88 L71.35,332.33 L71.86,331.79 L72.37,331.25 L72.88,330.71 L73.39,330.15 L73.90,329.57 L74.41,328.95 L74.91,328.30 L75.42,327.63 L75.93,326.95 L76.44,326.28 L76.95,325.65 L77.46,325.06 L77.97,324.52 L78.48,324.03 L78.99,323.58 L79.50,323.16 L80.01,322.76 L80.51,322.38 L81.02,322.00 L81.53,321.64 L82.04,321.28 L82.55,320.93 L83.06,320.58 L83.57,320.25 L84.08,319.92 L84.59,319.60 L85.10,319.28 L85.60,318.97 L86.11,318.67 L86.62,318.37 L87.13,318.08 L87.64,317.79 L88.15,317.51 L88.66,317.23 L89.17,316.96 L89.68,316.70 L90.19,316.44 L90.69,316.18 L91.20,315.93 L91.71,315.68 L92.22,315.44 L92.73,315.20 L93.24,314.97 L93.75,314.74 L94.26,314.51 L94.77,314.29 L95.28,314.07 L95.78,313.86 L96.29,313.65 L96.80,313.44 L97.31,313.24 L97.82,313.04 L98.33,312.84 L98.84,312.64 L99.35,312.45 L99.86,312.26 L100.37,312.08 L100.87,311.90 L101.38,311.72 L101.89,311.54 L102.40,311.37 L102.91,311.19 L103.42,311.02 L103.93,310.86 L104.44,310.69 L104.95,310.53 L105.46,310.37 L105.96,310.21 L106.47,310.06 L106.98,309.90 L107.49,309.75 L108.00,309.60 L108.51,309.45 L109.02,309.31 L109.53,309.16 L110.04,309.02 L110.55,308.88 L111.06,308.74 L111.56,308.60 L112.07,308.47 L112.58,308.34 L113.09,308.20 L113.60,308.07 L114.11,307.94 L114.62,307.82 L115.13,307.69 L115.64,307.56 L116.15,307.44 L116.65,307.32 L117.16,307.20 L117.67,307.08 L118.18,306.96 L118.69,306.84 L119.20,306.73 L119.71,306.61 L120.22,306.50 L120.73,306.39 L121.24,306.27 L121.74,306.16 L122.25,306.06 L122.76,305.95 L123.27,305.84 L123.78,305.73 L124.29,305.63 L124.80,305.52 L125.31,305.42 L125.82,305.32 L126.33,305.22 L126.83,305.12 L127.34,305.02 L127.85,304.92 L128.36,304.82 L128.87,304.72 L129.38,304.62 L129.89,304.53 L130.40,304.43 L130.91,304.34 L131.42,304.24 L131.92,304.15 L132.43,304.06 L132.94,303.97 L133.45,303.88 L133.96,303.79 L134.47,303.70 L134.98,303.61 L135.49,303.52 L136.00,303.43 L136.51,303.34 L137.02,303.26 L137.52,303.17 L138.03,303.09 L138.54,303.00 L139.05,302.92 L139.56,302.83 L140.07,302.75 L140.58,302.67 L141.09,302.58 L141.60,302.50 L142.11,302.42 L142.61,302.34 L143.12,302.26 L143.63,302.18 L144.14,302.10 L144.65,302.02 L145.16,301.94 L145.67,301.87 L146.18,301.79 L146.69,301.71 L147.20,301.64 L147.70,301.56 L148.21,301.48 L148.72,301.41 L149.23,301.33 L149.74,301.26 L150.25,301.18 L150.76,301.11 L151.27,301.04 L151.78,300.96 L152.29,300.89 L152.79,300.82 L153.30,300.75 L153.81,300.68 L154.32,300.61 L154.83,300.53 L155.34,300.46 L155.85,300.39 L156.36,300.32 L156.87,300.25 L157.38,300.19 L157.88,300.12 L158.39,300.05 L158.90,299.98 L159.41,299.91 L159.92,299.85 L160.43,299.78 L160.94,299.71 L161.45,299.64 L161.96,299.58 L162.47,299.51 L162.97,299.45 L163.48,299.38 L163.99,299.32 L164.50,299.25 L165.01,299.19 L165.52,299.12 L166.03,299.06 L166.54,298.99 L167.05,298.93 L167.56,298.87 L168.07,298.81 L168.57,298.74 L169.08,298.68 L169.59,298.62 L170.10,298.56 L170.61,298.49 L171.12,298.43 L171.63,298.37 L172.14,298.31 L172.65,298.25 L173.16,298.19 L173.66,298.13 L174.17,298.07 L174.68,298.01 L175.19,297.95 L175.70,297.89 L176.21,297.83 L176.72,297.78 L177.23,297.72 L177.74,297.66 L178.25,297.60 L178.75,297.54 L179.26,297.49 L179.77,297.43 L180.28,297.37 L180.79,297.31 L181.30,297.26 L181.81,297.20 L182.32,297.14 L182.83,297.09 L183.34,297.03 L183.84,296.98 L184.35,296.92 L184.86,296.87 L185.37,296.81 L185.88,296.76 L186.39,296.70 L186.90,296.65 L187.41,296.59 L187.92,296.54 L188.43,296.49 L188.93,296.43 L189.44,296.38 L189.95,296.33 L190.46,296.27 L190.97,296.22 L191.48,296.17 L191.99,296.12 L192.50,296.06 L193.01,296.01 L193.52,295.96 L194.03,295.91 L194.53,295.86 L195.04,295.81 L195.55,295.76 L196.06,295.70 L196.57,295.65 L197.08,295.60 L197.59,295.55 L198.10,295.50 L198.61,295.45 L199.12,295.40 L199.62,295.35 L200.13,295.30 L200.64,295.26 L201.15,295.21 L201.66,295.16 L202.17,295.11 L202.68,295.06 L203.19,295.01 L203.70,294.96 L204.21,294.92 L204.71,294.87 L205.22,294.82 L205.73,294.77 L206.24,294.73 L206.75,294.68 L207.26,294.63 L207.77,294.59 L208.28,294.54 L208.79,294.49 L209.30,294.45 L209.80,294.40 L210.31,294.35 L210.82,294.31 L211.33,294.26 L211.84,294.22 L212.35,294.17 L212.86,294.13 L213.37,294.08 L213.88,294.04 L214.39,293.99 L214.89,293.95 L215.40,293.90 L215.91,293.86 L216.42,293.81 L216.93,293.77 L217.44,293.73 L217.95,293.68 L218.46,293.64 L218.97,293.60 L219.48,293.55 L219.98,293.51 L220.49,293.47 L221.00,293.42 L221.51,293.38 L222.02,293.34 L222.53,293.30 L223.04,293.25 L223.55,293.21 L224.06,293.17 L224.57,293.13 L225.08,293.09 L225.58,293.05 L226.09,293.01 L226.60,292.96 L227.11,292.92 L227.62,292.88 L228.13,292.84 L228.64,292.80 L229.15,292.76 L229.66,292.72 L230.17,292.68 L230.67,292.64 L231.18,292.60 L231.69,292.56 L232.20,292.52 L232.71,292.48 L233.22,292.44 L233.73,292.40 L234.24,292.36 L234.75,292.33 L235.26,292.29 L235.76,292.25 L236.27,292.21 L236.78,292.17 L237.29,292.13 L237.80,292.09 L238.31,292.06 L238.82,292.02 L239.33,291.98 L239.84,291.94 L240.35,291.91 L240.85,291.87 L241.36,291.83 L241.87,291.79 L242.38,291.76 L242.89,291.72 L243.40,291.68 L243.91,291.65 L244.42,291.61 L244.93,291.57 L245.44,291.54 L245.94,291.50 L246.45,291.47 L246.96,291.43 L247.47,291.39 L247.98,291.36 L248.49,291.32 L249.00,291.29 L249.51,291.25 L250.02,291.22 L250.53,291.18 L251.04,291.15 L251.54,291.11 L252.05,291.08 L252.56,291.04 L253.07,291.01 L253.58,290.98 L254.09,290.94 L254.60,290.91 L255.11,290.87 L255.62,290.84 L256.13,290.81 L256.63,290.77 L257.14,290.74 L257.65,290.71 L258.16,290.67 L258.67,290.64 L259.18,290.61 L259.69,290.57 L260.20,290.54 L260.71,290.51 L261.22,290.48 L261.72,290.44 L262.23,290.41 L262.74,290.38 L263.25,290.35 L263.76,290.32 L264.27,290.28 L264.78,290.25 L265.29,290.22 L265.80,290.19 L266.31,290.16 L266.81,290.13 L267.32,290.09 L267.83,290.06 L268.34,290.03 L268.85,290.00 L269.36,289.97 L269.87,289.94 L270.38,289.91 L270.89,289.88 L271.40,289.85 L271.90,289.82 L272.41,289.79 L272.92,289.76 L273.43,289.73 L273.94,289.70 L274.45,289.67 L274.96,289.64 L275.47,289.61 L275.98,289.58 L276.49,289.55 L276.99,289.52 L277.50,289.49 L278.01,289.46 L278.52,289.43 L279.03,289.40 L279.54,289.38 L280.05,289.35 L280.56,289.32 L281.07,289.29 L281.58,289.26 L282.09,289.23 L282.59,289.21 L283.10,289.18 L283.61,289.15 L284.12,289.12 L284.63,289.09 L285.14,289.07 L285.65,289.04 L286.16,289.01 L286.67,288.98 L287.18,288.96 L287.68,288.93 L288.19,288.90 L288.70,288.87 L289.21,288.85 L289.72,288.82 L290.23,288.79 L290.74,288.77 L291.25,288.74 L291.76,288.71 L292.27,288.69 L292.77,288.66 L293.28,288.64 L293.79,288.61 L294.30,288.58 L294.81,288.56 L295.32,288.53 L295.83,288.51 L296.34,288.48 L296.85,288.45 L297.36,288.43 L297.86,288.40 L298.37,288.38 L298.88,288.35 L299.39,288.33 L299.90,288.30 L300.41,288.28 L300.92,288.25 L301.43,288.23 L301.94,288.20 L302.45,288.18 L302.95,288.15 L303.46,288.13 L303.97,288.10 L304.48,288.08 L304.99,288.06 L305.50,288.03" stroke="#ff00ff"/>
</g>
<g stroke="#4a4a4a" stroke-width="1.5" fill="none">
<line x1="51.1" y1="0" x2="51.1" y2="384.25"/>
<line x1="305.0" y1="0" x2="305.0" y2="384.25"/>
<line x1="50.6" y1="119.9" x2="305.5" y2="119.9"/>
<line x1="50.6" y1="251.9" x2="305.5" y2="251.9"/>
<line x1="50.6" y1="383.75" x2="305.5" y2="383.75"/>
</g>
<g stroke="#333" stroke-width="1.1" fill="none">
<line x1="51.1" y1="27.4" x2="55.9" y2="27.4"/>
<line x1="305.0" y1="27.4" x2="300.2" y2="27.4"/>
<line x1="51.1" y1="80.3" x2="55.9" y2="80.3"/>
<line x1="305.0" y1="80.3" x2="300.2" y2="80.3"/>
<line x1="51.1" y1="1.1" x2="54.1" y2="1.1"/>
<line x1="305.0" y1="1.1" x2="302.0" y2="1.1"/>
<line x1="51.1" y1="53.9" x2="54.1" y2="53.9"/>
<line x1="305.0" y1="53.9" x2="302.0" y2="53.9"/>
<line x1="51.1" y1="106.6" x2="54.1" y2="106.6"/>
<line x1="305.0" y1="106.6" x2="302.0" y2="106.6"/>
<line x1="51.1" y1="130.9" x2="55.9" y2="130.9"/>
<line x1="305.0" y1="130.9" x2="300.2" y2="130.9"/>
<line x1="51.1" y1="186.5" x2="55.9" y2="186.5"/>
<line x1="305.0" y1="186.5" x2="300.2" y2="186.5"/>
<line x1="51.1" y1="242.1" x2="55.9" y2="242.1"/>
<line x1="305.0" y1="242.1" x2="300.2" y2="242.1"/>
<line x1="51.1" y1="158.8" x2="54.1" y2="158.8"/>
<line x1="305.0" y1="158.8" x2="302.0" y2="158.8"/>
<line x1="51.1" y1="214.4" x2="54.1" y2="214.4"/>
<line x1="305.0" y1="214.4" x2="302.0" y2="214.4"/>
<line x1="51.1" y1="263.0" x2="55.9" y2="263.0"/>
<line x1="305.0" y1="263.0" x2="300.2" y2="263.0"/>
<line x1="51.1" y1="318.7" x2="55.9" y2="318.7"/>
<line x1="305.0" y1="318.7" x2="300.2" y2="318.7"/>
<line x1="51.1" y1="374.5" x2="55.9" y2="374.5"/>
<line x1="305.0" y1="374.5" x2="300.2" y2="374.5"/>
<line x1="51.1" y1="290.8" x2="54.1" y2="290.8"/>
<line x1="305.0" y1="290.8" x2="302.0" y2="290.8"/>
<line x1="51.1" y1="346.6" x2="54.1" y2="346.6"/>
<line x1="305.0" y1="346.6" x2="302.0" y2="346.6"/>
<line x1="178.1" y1="119.9" x2="178.1" y2="115.10000000000001"/>
<line x1="114.5" y1="119.9" x2="114.5" y2="116.9"/>
<line x1="241.6" y1="119.9" x2="241.6" y2="116.9"/>
<line x1="178.1" y1="251.9" x2="178.1" y2="247.1"/>
<line x1="114.5" y1="251.9" x2="114.5" y2="248.9"/>
<line x1="241.6" y1="251.9" x2="241.6" y2="248.9"/>
<line x1="178.1" y1="383.75" x2="178.1" y2="378.95"/>
<line x1="114.5" y1="383.75" x2="114.5" y2="380.75"/>
<line x1="241.6" y1="383.75" x2="241.6" y2="380.75"/>
</g>
<g font-family="Liberation Sans, sans-serif" font-size="10.3px" fill="#000" stroke="#000" stroke-width="0.3">
<text x="45.8" y="31.0" text-anchor="end">400</text>
<text x="45.8" y="83.89999999999999" text-anchor="end">200</text>
<text x="45.8" y="134.5" text-anchor="end">3000</text>
<text x="45.8" y="190.1" text-anchor="end">1500</text>
<text x="45.8" y="245.7" text-anchor="end">0</text>
<text x="45.8" y="266.6" text-anchor="end">300</text>
<text x="45.8" y="322.3" text-anchor="end">150</text>
<text x="45.8" y="378.1" text-anchor="end">0</text>
<text x="51.2" y="397.2" text-anchor="middle">0.0</text>
<text x="178.2" y="397.2" text-anchor="middle">0.5</text>
<text x="305.3" y="397.2" text-anchor="middle">1.0</text>
</g>
<text transform="translate(15.8,189.3) rotate(-90)" text-anchor="middle" font-family="Liberation Sans, sans-serif" font-style="italic" font-size="16px" stroke="#000" stroke-width="0.4">&lt;k&gt;</text>
<text transform="translate(178.0,416.8) scale(1.18,1)" x="0" y="0" text-anchor="middle" font-family="Liberation Serif, serif" font-style="italic" font-size="17px" stroke="#000" stroke-width="0.3">&#955;</text>
<rect x="82" y="92.8" width="55.0" height="18.200000000000003" fill="#000"/>
<rect x="78.5" y="89.5" width="55.80000000000001" height="18.0" fill="#fff" stroke="#777" stroke-width="1"/>
<rect x="82.5" y="223.3" width="61.900000000000006" height="18.299999999999983" fill="#000"/>
<rect x="78.5" y="219.5" width="62.099999999999994" height="18.0" fill="#fff" stroke="#777" stroke-width="1"/>
<rect x="83" y="353.5" width="87.30000000000001" height="18.80000000000001" fill="#000"/>
<rect x="79.5" y="349.5" width="87.1" height="19.19999999999999" fill="#fff" stroke="#777" stroke-width="1"/>
<rect x="243" y="32.0" width="52.80000000000001" height="74.7" fill="#000"/>
<rect x="239.5" y="28.5" width="53.30000000000001" height="74.8" fill="#fff" stroke="#777" stroke-width="1"/>
<g font-family="Liberation Sans, sans-serif" font-style="italic" font-size="11px" fill="#000" stroke="#000" stroke-width="0.25">
<text transform="translate(84.6,102.6) scale(1.09,1)" x="0" y="0">(a) RYM</text>
<text transform="translate(85.7,233.6) scale(1.055,1)" x="0" y="0">(b) Netflix</text>
<text transform="translate(86.6,364.0) scale(1.08,1)" x="0" y="0">(c) MovieLens</text>
</g>
<g font-family="Liberation Sans, sans-serif" font-style="italic" font-size="10.5px" fill="#000">
<line x1="242.1" y1="40.65" x2="263.0" y2="40.65" stroke="#000000" stroke-width="1.5"/>
<text x="265.7" y="44.15" stroke="#000" stroke-width="0.25">L=10</text>
<line x1="242.1" y1="53.7" x2="263.0" y2="53.7" stroke="#ff0000" stroke-width="1.5"/>
<text x="265.7" y="57.2" stroke="#000" stroke-width="0.25">L=20</text>
<line x1="242.1" y1="66.75" x2="263.0" y2="66.75" stroke="#0000ff" stroke-width="1.5"/>
<text x="265.7" y="70.25" stroke="#000" stroke-width="0.25">L=30</text>
<line x1="242.1" y1="79.80000000000001" x2="263.0" y2="79.80000000000001" stroke="#606060" stroke-width="1.5"/>
<text x="265.7" y="83.30000000000001" stroke="#000" stroke-width="0.25">L=40</text>
<line x1="242.1" y1="92.85" x2="263.0" y2="92.85" stroke="#ff00ff" stroke-width="1.5"/>
<text x="265.7" y="96.35" stroke="#000" stroke-width="0.25">L=50</text>
</g>
</svg>
</body></html>
